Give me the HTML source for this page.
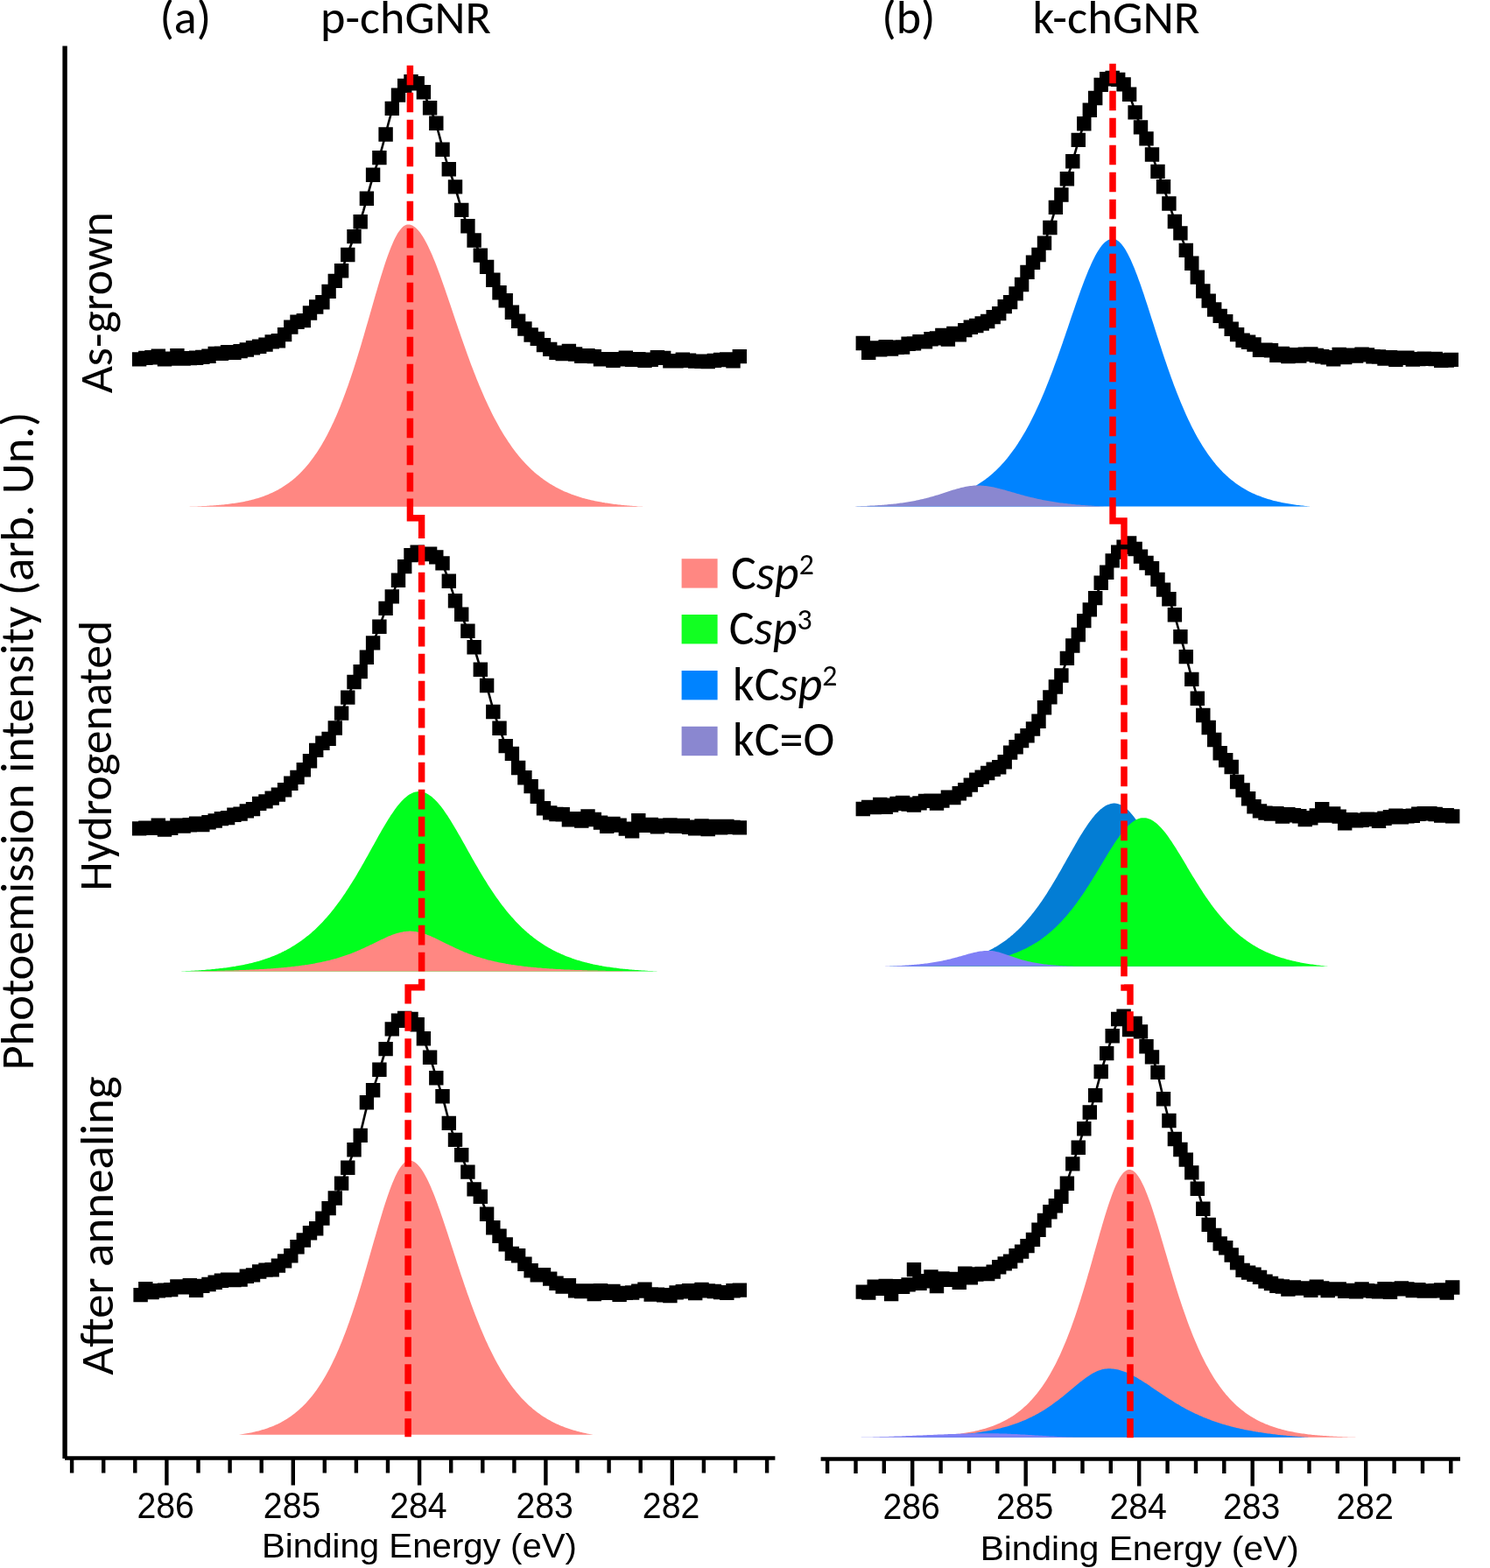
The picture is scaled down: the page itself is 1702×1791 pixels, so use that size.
<!DOCTYPE html>
<html><head><meta charset="utf-8"><title>XPS C1s spectra</title><style>html,body{margin:0;padding:0;background:#fff;overflow:hidden}svg{display:block}</style></head><body>
<svg xmlns="http://www.w3.org/2000/svg" width="1702" height="1791" viewBox="0 0 1702 1791">
<rect width="1702" height="1791" fill="#fff"/>
<path fill="#ff8782" d="M214.5 578.7L214.5 578.7L216 578.7L217.5 578.6L219 578.6L220.5 578.5L222 578.5L223.5 578.4L225 578.4L226.5 578.3L228 578.2L229.5 578.2L231 578.1L232.5 578L234 577.9L235.5 577.9L237 577.8L238.5 577.7L240 577.6L241.5 577.5L243 577.4L244.5 577.3L246 577.2L247.5 577.1L249 576.9L250.5 576.8L252 576.7L253.5 576.5L255 576.4L256.5 576.2L258 576.1L259.5 575.9L261 575.7L262.5 575.5L264 575.3L265.5 575.1L267 574.9L268.5 574.7L270 574.5L271.5 574.2L273 574L274.5 573.7L276 573.5L277.5 573.2L279 572.9L280.5 572.6L282 572.3L283.5 571.9L285 571.6L286.5 571.2L288 570.8L289.5 570.4L291 570L292.5 569.6L294 569.2L295.5 568.7L297 568.2L298.5 567.7L300 567.2L301.5 566.7L303 566.1L304.5 565.5L306 564.9L307.5 564.3L309 563.6L310.5 563L312 562.3L313.5 561.5L315 560.8L316.5 560L318 559.2L319.5 558.3L321 557.5L322.5 556.5L324 555.6L325.5 554.6L327 553.6L328.5 552.5L330 551.5L331.5 550.3L333 549.2L334.5 547.9L336 546.7L337.5 545.4L339 544L340.5 542.7L342 541.2L343.5 539.7L345 538.2L346.5 536.6L348 534.9L349.5 533.2L351 531.5L352.5 529.7L354 527.8L355.5 525.8L357 523.8L358.5 521.8L360 519.6L361.5 517.4L363 515.2L364.5 512.8L366 510.4L367.5 507.9L369 505.3L370.5 502.7L372 500L373.5 497.2L375 494.3L376.5 491.3L378 488.2L379.5 485.1L381 481.9L382.5 478.6L384 475.2L385.5 471.7L387 468.1L388.5 464.4L390 460.6L391.5 456.8L393 452.8L394.5 448.8L396 444.6L397.5 440.4L399 436.1L400.5 431.7L402 427.2L403.5 422.7L405 418L406.5 413.3L408 408.5L409.5 403.6L411 398.7L412.5 393.7L414 388.6L415.5 383.5L417 378.3L418.5 373.1L420 367.9L421.5 362.7L423 357.4L424.5 352.2L426 346.9L427.5 341.7L429 336.5L430.5 331.4L432 326.3L433.5 321.2L435 316.3L436.5 311.4L438 306.7L439.5 302.1L441 297.6L442.5 293.3L444 289.2L445.5 285.2L447 281.4L448.5 277.9L450 274.6L451.5 271.5L453 268.7L454.5 266.1L456 263.9L457.5 261.9L459 260.2L460.5 258.8L462 257.7L463.5 257L465 256.5L466.5 256.4L468 256.6L469.5 256.9L471 257.5L472.5 258.4L474 259.4L475.5 260.7L477 262.2L478.5 263.9L480 265.8L481.5 267.9L483 270.2L484.5 272.7L486 275.4L487.5 278.2L489 281.2L490.5 284.4L492 287.7L493.5 291.1L495 294.7L496.5 298.3L498 302.1L499.5 306L501 310L502.5 314.1L504 318.2L505.5 322.4L507 326.7L508.5 331L510 335.4L511.5 339.8L513 344.2L514.5 348.6L516 353.1L517.5 357.5L519 361.9L520.5 366.4L522 370.8L523.5 375.2L525 379.6L526.5 384L528 388.3L529.5 392.6L531 396.8L532.5 401L534 405.2L535.5 409.3L537 413.4L538.5 417.4L540 421.3L541.5 425.2L543 429.1L544.5 432.9L546 436.6L547.5 440.2L549 443.8L550.5 447.3L552 450.8L553.5 454.2L555 457.5L556.5 460.8L558 464L559.5 467.1L561 470.2L562.5 473.2L564 476.2L565.5 479L567 481.8L568.5 484.6L570 487.3L571.5 489.9L573 492.5L574.5 495L576 497.4L577.5 499.8L579 502.1L580.5 504.4L582 506.6L583.5 508.8L585 510.9L586.5 513L588 515L589.5 516.9L591 518.8L592.5 520.7L594 522.5L595.5 524.2L597 525.9L598.5 527.6L600 529.2L601.5 530.8L603 532.3L604.5 533.8L606 535.2L607.5 536.7L609 538L610.5 539.4L612 540.7L613.5 541.9L615 543.1L616.5 544.3L618 545.5L619.5 546.6L621 547.7L622.5 548.7L624 549.8L625.5 550.8L627 551.7L628.5 552.7L630 553.6L631.5 554.5L633 555.3L634.5 556.2L636 557L637.5 557.8L639 558.5L640.5 559.3L642 560L643.5 560.7L645 561.4L646.5 562L648 562.6L649.5 563.3L651 563.8L652.5 564.4L654 565L655.5 565.5L657 566L658.5 566.6L660 567L661.5 567.5L663 568L664.5 568.4L666 568.9L667.5 569.3L669 569.7L670.5 570.1L672 570.4L673.5 570.8L675 571.2L676.5 571.5L678 571.8L679.5 572.2L681 572.5L682.5 572.8L684 573.1L685.5 573.3L687 573.6L688.5 573.9L690 574.1L691.5 574.4L693 574.6L694.5 574.8L696 575.1L697.5 575.3L699 575.5L700.5 575.7L702 575.9L703.5 576L705 576.2L706.5 576.4L708 576.6L709.5 576.7L711 576.9L712.5 577L714 577.2L715.5 577.3L717 577.4L718.5 577.6L720 577.7L721.5 577.8L723 577.9L724.5 578L726 578.1L727.5 578.3L729 578.4L730.5 578.4L732 578.5L733.5 578.6L734.7 578.7L734.7 578.7Z"/>
<path fill="#00ff1e" d="M203.6 1109.5L203.6 1109.5L205.1 1109.4L206.6 1109.4L208.1 1109.3L209.6 1109.3L211.1 1109.2L212.6 1109.1L214.1 1109.1L215.6 1109L217.1 1108.9L218.6 1108.8L220.1 1108.7L221.6 1108.7L223.1 1108.6L224.6 1108.5L226.1 1108.4L227.6 1108.3L229.1 1108.2L230.6 1108.1L232.1 1108L233.6 1107.9L235.1 1107.7L236.6 1107.6L238.1 1107.5L239.6 1107.4L241.1 1107.2L242.6 1107.1L244.1 1106.9L245.6 1106.8L247.1 1106.6L248.6 1106.5L250.1 1106.3L251.6 1106.1L253.1 1106L254.6 1105.8L256.1 1105.6L257.6 1105.4L259.1 1105.2L260.6 1105L262.1 1104.8L263.6 1104.6L265.1 1104.3L266.6 1104.1L268.1 1103.9L269.6 1103.6L271.1 1103.3L272.6 1103.1L274.1 1102.8L275.6 1102.5L277.1 1102.2L278.6 1101.9L280.1 1101.6L281.6 1101.3L283.1 1100.9L284.6 1100.6L286.1 1100.2L287.6 1099.9L289.1 1099.5L290.6 1099.1L292.1 1098.7L293.6 1098.3L295.1 1097.9L296.6 1097.4L298.1 1097L299.6 1096.5L301.1 1096L302.6 1095.5L304.1 1095L305.6 1094.5L307.1 1094L308.6 1093.4L310.1 1092.8L311.6 1092.3L313.1 1091.7L314.6 1091L316.1 1090.4L317.6 1089.7L319.1 1089.1L320.6 1088.4L322.1 1087.6L323.6 1086.9L325.1 1086.1L326.6 1085.4L328.1 1084.6L329.6 1083.7L331.1 1082.9L332.6 1082L334.1 1081.1L335.6 1080.2L337.1 1079.3L338.6 1078.3L340.1 1077.3L341.6 1076.3L343.1 1075.3L344.6 1074.2L346.1 1073.1L347.6 1072L349.1 1070.8L350.6 1069.6L352.1 1068.4L353.6 1067.2L355.1 1065.9L356.6 1064.6L358.1 1063.2L359.6 1061.9L361.1 1060.5L362.6 1059L364.1 1057.5L365.6 1056L367.1 1054.5L368.6 1052.9L370.1 1051.3L371.6 1049.6L373.1 1047.9L374.6 1046.2L376.1 1044.5L377.6 1042.7L379.1 1040.8L380.6 1038.9L382.1 1037L383.6 1035.1L385.1 1033.1L386.6 1031.1L388.1 1029L389.6 1026.9L391.1 1024.8L392.6 1022.6L394.1 1020.4L395.6 1018.1L397.1 1015.8L398.6 1013.5L400.1 1011.1L401.6 1008.7L403.1 1006.3L404.6 1003.9L406.1 1001.4L407.6 998.9L409.1 996.3L410.6 993.7L412.1 991.2L413.6 988.5L415.1 985.9L416.6 983.2L418.1 980.6L419.6 977.9L421.1 975.2L422.6 972.5L424.1 969.8L425.6 967.1L427.1 964.4L428.6 961.7L430.1 959L431.6 956.3L433.1 953.6L434.6 951L436.1 948.3L437.6 945.8L439.1 943.2L440.6 940.7L442.1 938.2L443.6 935.8L445.1 933.4L446.6 931.1L448.1 928.9L449.6 926.7L451.1 924.6L452.6 922.5L454.1 920.6L455.6 918.7L457.1 917L458.6 915.3L460.1 913.7L461.6 912.3L463.1 910.9L464.6 909.7L466.1 908.6L467.6 907.5L469.1 906.7L470.6 905.9L472.1 905.3L473.6 904.8L475.1 904.4L476.6 904.2L478.1 904.1L479.6 904.1L481.1 904.3L482.6 904.6L484.1 905L485.6 905.5L487.1 906.2L488.6 907L490.1 907.9L491.6 909L493.1 910.1L494.6 911.4L496.1 912.8L497.6 914.2L499.1 915.8L500.6 917.5L502.1 919.3L503.6 921.1L505.1 923.1L506.6 925.1L508.1 927.2L509.6 929.4L511.1 931.6L512.6 933.9L514.1 936.3L515.6 938.7L517.1 941.2L518.6 943.7L520.1 946.2L521.6 948.8L523.1 951.4L524.6 954L526.1 956.6L527.6 959.3L529.1 961.9L530.6 964.6L532.1 967.3L533.6 970L535.1 972.7L536.6 975.3L538.1 978L539.6 980.7L541.1 983.3L542.6 985.9L544.1 988.5L545.6 991.1L547.1 993.7L548.6 996.2L550.1 998.8L551.6 1001.2L553.1 1003.7L554.6 1006.1L556.1 1008.5L557.6 1010.9L559.1 1013.2L560.6 1015.5L562.1 1017.8L563.6 1020L565.1 1022.2L566.6 1024.4L568.1 1026.5L569.6 1028.6L571.1 1030.7L572.6 1032.7L574.1 1034.7L575.6 1036.6L577.1 1038.5L578.6 1040.4L580.1 1042.2L581.6 1044L583.1 1045.7L584.6 1047.5L586.1 1049.1L587.6 1050.8L589.1 1052.4L590.6 1054L592.1 1055.5L593.6 1057L595.1 1058.5L596.6 1059.9L598.1 1061.3L599.6 1062.7L601.1 1064.1L602.6 1065.4L604.1 1066.6L605.6 1067.9L607.1 1069.1L608.6 1070.3L610.1 1071.5L611.6 1072.6L613.1 1073.7L614.6 1074.8L616.1 1075.8L617.6 1076.8L619.1 1077.8L620.6 1078.8L622.1 1079.7L623.6 1080.7L625.1 1081.6L626.6 1082.4L628.1 1083.3L629.6 1084.1L631.1 1084.9L632.6 1085.7L634.1 1086.5L635.6 1087.2L637.1 1087.9L638.6 1088.6L640.1 1089.3L641.6 1090L643.1 1090.6L644.6 1091.3L646.1 1091.9L647.6 1092.5L649.1 1093L650.6 1093.6L652.1 1094.1L653.6 1094.7L655.1 1095.2L656.6 1095.7L658.1 1096.2L659.6 1096.7L661.1 1097.1L662.6 1097.6L664.1 1098L665.6 1098.4L667.1 1098.8L668.6 1099.2L670.1 1099.6L671.6 1100L673.1 1100.3L674.6 1100.7L676.1 1101L677.6 1101.4L679.1 1101.7L680.6 1102L682.1 1102.3L683.6 1102.6L685.1 1102.9L686.6 1103.1L688.1 1103.4L689.6 1103.7L691.1 1103.9L692.6 1104.2L694.1 1104.4L695.6 1104.6L697.1 1104.8L698.6 1105L700.1 1105.3L701.6 1105.5L703.1 1105.6L704.6 1105.8L706.1 1106L707.6 1106.2L709.1 1106.4L710.6 1106.5L712.1 1106.7L713.6 1106.8L715.1 1107L716.6 1107.1L718.1 1107.3L719.6 1107.4L721.1 1107.5L722.6 1107.7L724.1 1107.8L725.6 1107.9L727.1 1108L728.6 1108.1L730.1 1108.2L731.6 1108.3L733.1 1108.4L734.6 1108.5L736.1 1108.6L737.6 1108.7L739.1 1108.8L740.6 1108.9L742.1 1109L743.6 1109L745.1 1109.1L746.6 1109.2L748.1 1109.2L749.6 1109.3L751.1 1109.4L752.6 1109.4L754 1109.5L754 1109.5Z"/>
<path fill="#ff8782" d="M205 1109.5L205 1109.5L206.5 1109.5L208 1109.5L209.5 1109.5L211 1109.4L212.5 1109.4L214 1109.4L215.5 1109.4L217 1109.4L218.5 1109.4L220 1109.3L221.5 1109.3L223 1109.3L224.5 1109.3L226 1109.3L227.5 1109.2L229 1109.2L230.5 1109.2L232 1109.2L233.5 1109.1L235 1109.1L236.5 1109.1L238 1109.1L239.5 1109L241 1109L242.5 1109L244 1108.9L245.5 1108.9L247 1108.9L248.5 1108.8L250 1108.8L251.5 1108.8L253 1108.7L254.5 1108.7L256 1108.7L257.5 1108.6L259 1108.6L260.5 1108.6L262 1108.5L263.5 1108.5L265 1108.4L266.5 1108.4L268 1108.3L269.5 1108.3L271 1108.2L272.5 1108.2L274 1108.1L275.5 1108.1L277 1108L278.5 1108L280 1107.9L281.5 1107.8L283 1107.8L284.5 1107.7L286 1107.6L287.5 1107.6L289 1107.5L290.5 1107.4L292 1107.3L293.5 1107.3L295 1107.2L296.5 1107.1L298 1107L299.5 1106.9L301 1106.9L302.5 1106.8L304 1106.7L305.5 1106.6L307 1106.5L308.5 1106.4L310 1106.3L311.5 1106.2L313 1106L314.5 1105.9L316 1105.8L317.5 1105.7L319 1105.6L320.5 1105.4L322 1105.3L323.5 1105.2L325 1105L326.5 1104.9L328 1104.7L329.5 1104.6L331 1104.4L332.5 1104.3L334 1104.1L335.5 1103.9L337 1103.7L338.5 1103.6L340 1103.4L341.5 1103.2L343 1103L344.5 1102.8L346 1102.6L347.5 1102.4L349 1102.1L350.5 1101.9L352 1101.7L353.5 1101.4L355 1101.2L356.5 1100.9L358 1100.7L359.5 1100.4L361 1100.1L362.5 1099.8L364 1099.5L365.5 1099.2L367 1098.9L368.5 1098.6L370 1098.3L371.5 1097.9L373 1097.6L374.5 1097.2L376 1096.9L377.5 1096.5L379 1096.1L380.5 1095.7L382 1095.3L383.5 1094.9L385 1094.4L386.5 1094L388 1093.5L389.5 1093.1L391 1092.6L392.5 1092.1L394 1091.6L395.5 1091.1L397 1090.5L398.5 1090L400 1089.4L401.5 1088.9L403 1088.3L404.5 1087.7L406 1087.1L407.5 1086.4L409 1085.8L410.5 1085.2L412 1084.5L413.5 1083.8L415 1083.2L416.5 1082.5L418 1081.8L419.5 1081.1L421 1080.4L422.5 1079.6L424 1078.9L425.5 1078.2L427 1077.5L428.5 1076.7L430 1076L431.5 1075.2L433 1074.5L434.5 1073.8L436 1073.1L437.5 1072.4L439 1071.7L440.5 1071L442 1070.3L443.5 1069.6L445 1069L446.5 1068.4L448 1067.8L449.5 1067.3L451 1066.7L452.5 1066.3L454 1065.8L455.5 1065.4L457 1065L458.5 1064.7L460 1064.4L461.5 1064.1L463 1063.9L464.5 1063.8L466 1063.7L467.5 1063.6L469 1063.6L470.5 1063.7L472 1063.8L473.5 1063.9L475 1064.1L476.5 1064.4L478 1064.7L479.5 1065L481 1065.4L482.5 1065.8L484 1066.3L485.5 1066.8L487 1067.3L488.5 1067.9L490 1068.5L491.5 1069.1L493 1069.7L494.5 1070.4L496 1071.1L497.5 1071.8L499 1072.5L500.5 1073.2L502 1073.9L503.5 1074.7L505 1075.4L506.5 1076.2L508 1076.9L509.5 1077.7L511 1078.4L512.5 1079.1L514 1079.9L515.5 1080.6L517 1081.3L518.5 1082L520 1082.7L521.5 1083.4L523 1084.1L524.5 1084.8L526 1085.5L527.5 1086.1L529 1086.7L530.5 1087.4L532 1088L533.5 1088.6L535 1089.2L536.5 1089.7L538 1090.3L539.5 1090.8L541 1091.4L542.5 1091.9L544 1092.4L545.5 1092.9L547 1093.3L548.5 1093.8L550 1094.3L551.5 1094.7L553 1095.1L554.5 1095.6L556 1096L557.5 1096.4L559 1096.7L560.5 1097.1L562 1097.5L563.5 1097.8L565 1098.2L566.5 1098.5L568 1098.8L569.5 1099.2L571 1099.5L572.5 1099.8L574 1100.1L575.5 1100.3L577 1100.6L578.5 1100.9L580 1101.1L581.5 1101.4L583 1101.6L584.5 1101.9L586 1102.1L587.5 1102.3L589 1102.5L590.5 1102.7L592 1103L593.5 1103.1L595 1103.3L596.5 1103.5L598 1103.7L599.5 1103.9L601 1104.1L602.5 1104.2L604 1104.4L605.5 1104.5L607 1104.7L608.5 1104.8L610 1105L611.5 1105.1L613 1105.3L614.5 1105.4L616 1105.5L617.5 1105.6L619 1105.8L620.5 1105.9L622 1106L623.5 1106.1L625 1106.2L626.5 1106.3L628 1106.4L629.5 1106.5L631 1106.6L632.5 1106.7L634 1106.8L635.5 1106.9L637 1107L638.5 1107.1L640 1107.1L641.5 1107.2L643 1107.3L644.5 1107.4L646 1107.4L647.5 1107.5L649 1107.6L650.5 1107.6L652 1107.7L653.5 1107.8L655 1107.8L656.5 1107.9L658 1107.9L659.5 1108L661 1108L662.5 1108.1L664 1108.1L665.5 1108.2L667 1108.2L668.5 1108.3L670 1108.3L671.5 1108.4L673 1108.4L674.5 1108.5L676 1108.5L677.5 1108.5L679 1108.6L680.5 1108.6L682 1108.6L683.5 1108.7L685 1108.7L686.5 1108.7L688 1108.8L689.5 1108.8L691 1108.8L692.5 1108.9L694 1108.9L695.5 1108.9L697 1108.9L698.5 1109L700 1109L701.5 1109L703 1109L704.5 1109.1L706 1109.1L707.5 1109.1L709 1109.1L710.5 1109.1L712 1109.2L713.5 1109.2L715 1109.2L716.5 1109.2L718 1109.2L719.5 1109.3L721 1109.3L722.5 1109.3L724 1109.3L725.5 1109.3L727 1109.3L728.5 1109.3L730 1109.4L731.5 1109.4L733 1109.4L734.5 1109.4L736 1109.4L737.5 1109.4L739 1109.4L740.5 1109.4L742 1109.4L743.5 1109.5L745 1109.5L746.5 1109.5L748 1109.5L749.5 1109.5L751 1109.5L752 1109.5L752 1109.5Z"/>
<path fill="#ff8782" d="M272.9 1638.7L272.9 1638.7L274.4 1638.5L275.9 1638.3L277.4 1638.1L278.9 1637.8L280.4 1637.6L281.9 1637.3L283.4 1637L284.9 1636.8L286.4 1636.5L287.9 1636.2L289.4 1635.8L290.9 1635.5L292.4 1635.1L293.9 1634.8L295.4 1634.4L296.9 1634L298.4 1633.6L299.9 1633.1L301.4 1632.7L302.9 1632.2L304.4 1631.7L305.9 1631.2L307.4 1630.6L308.9 1630.1L310.4 1629.5L311.9 1628.9L313.4 1628.2L314.9 1627.6L316.4 1626.9L317.9 1626.2L319.4 1625.4L320.9 1624.7L322.4 1623.8L323.9 1623L325.4 1622.1L326.9 1621.2L328.4 1620.3L329.9 1619.3L331.4 1618.3L332.9 1617.2L334.4 1616.1L335.9 1615L337.4 1613.8L338.9 1612.6L340.4 1611.3L341.9 1610L343.4 1608.6L344.9 1607.2L346.4 1605.8L347.9 1604.2L349.4 1602.7L350.9 1601L352.4 1599.3L353.9 1597.6L355.4 1595.8L356.9 1593.9L358.4 1592L359.9 1590L361.4 1587.9L362.9 1585.8L364.4 1583.6L365.9 1581.3L367.4 1578.9L368.9 1576.5L370.4 1574L371.9 1571.4L373.4 1568.7L374.9 1566L376.4 1563.2L377.9 1560.2L379.4 1557.2L380.9 1554.1L382.4 1551L383.9 1547.7L385.4 1544.3L386.9 1540.9L388.4 1537.3L389.9 1533.7L391.4 1530L392.9 1526.1L394.4 1522.2L395.9 1518.2L397.4 1514.1L398.9 1509.9L400.4 1505.6L401.9 1501.2L403.4 1496.8L404.9 1492.2L406.4 1487.6L407.9 1482.9L409.4 1478.1L410.9 1473.2L412.4 1468.3L413.9 1463.3L415.4 1458.2L416.9 1453.1L418.4 1448L419.9 1442.8L421.4 1437.6L422.9 1432.3L424.4 1427.1L425.9 1421.8L427.4 1416.6L428.9 1411.4L430.4 1406.2L431.9 1401L433.4 1395.9L434.9 1390.9L436.4 1385.9L437.9 1381L439.4 1376.3L440.9 1371.7L442.4 1367.2L443.9 1362.9L445.4 1358.7L446.9 1354.7L448.4 1350.9L449.9 1347.4L451.4 1344L452.9 1340.9L454.4 1338.1L455.9 1335.5L457.4 1333.2L458.9 1331.2L460.4 1329.5L461.9 1328.1L463.4 1327L464.9 1326.2L466.4 1325.7L467.9 1325.6L469.4 1325.7L470.9 1326.1L472.4 1326.7L473.9 1327.6L475.4 1328.7L476.9 1330.1L478.4 1331.7L479.9 1333.5L481.4 1335.5L482.9 1337.8L484.4 1340.2L485.9 1342.9L487.4 1345.7L488.9 1348.8L490.4 1352L491.9 1355.3L493.4 1358.9L494.9 1362.5L496.4 1366.3L497.9 1370.2L499.4 1374.3L500.9 1378.4L502.4 1382.6L503.9 1386.9L505.4 1391.3L506.9 1395.7L508.4 1400.2L509.9 1404.8L511.4 1409.3L512.9 1413.9L514.4 1418.6L515.9 1423.2L517.4 1427.8L518.9 1432.5L520.4 1437.1L521.9 1441.7L523.4 1446.3L524.9 1450.8L526.4 1455.4L527.9 1459.8L529.4 1464.3L530.9 1468.7L532.4 1473L533.9 1477.4L535.4 1481.6L536.9 1485.8L538.4 1489.9L539.9 1494L541.4 1498L542.9 1501.9L544.4 1505.8L545.9 1509.6L547.4 1513.3L548.9 1516.9L550.4 1520.5L551.9 1524L553.4 1527.5L554.9 1530.9L556.4 1534.1L557.9 1537.4L559.4 1540.5L560.9 1543.6L562.4 1546.6L563.9 1549.5L565.4 1552.4L566.9 1555.2L568.4 1557.9L569.9 1560.6L571.4 1563.2L572.9 1565.7L574.4 1568.2L575.9 1570.6L577.4 1572.9L578.9 1575.2L580.4 1577.4L581.9 1579.6L583.4 1581.7L584.9 1583.7L586.4 1585.7L587.9 1587.6L589.4 1589.5L590.9 1591.3L592.4 1593.1L593.9 1594.8L595.4 1596.4L596.9 1598.1L598.4 1599.6L599.9 1601.1L601.4 1602.6L602.9 1604.1L604.4 1605.4L605.9 1606.8L607.4 1608.1L608.9 1609.4L610.4 1610.6L611.9 1611.8L613.4 1612.9L614.9 1614.1L616.4 1615.1L617.9 1616.2L619.4 1617.2L620.9 1618.2L622.4 1619.1L623.9 1620.1L625.4 1621L626.9 1621.8L628.4 1622.6L629.9 1623.5L631.4 1624.2L632.9 1625L634.4 1625.7L635.9 1626.4L637.4 1627.1L638.9 1627.8L640.4 1628.4L641.9 1629L643.4 1629.6L644.9 1630.2L646.4 1630.7L647.9 1631.3L649.4 1631.8L650.9 1632.3L652.4 1632.8L653.9 1633.2L655.4 1633.7L656.9 1634.1L658.4 1634.5L659.9 1634.9L661.4 1635.3L662.9 1635.7L664.4 1636.1L665.9 1636.4L667.4 1636.7L668.9 1637.1L670.4 1637.4L671.9 1637.7L673.4 1638L674.9 1638.2L676.4 1638.5L677.5 1638.7L677.5 1638.7Z"/>
<path fill="#0083ff" d="M975 578.4L975 578.4L976.5 578.4L978 578.4L979.5 578.3L981 578.3L982.5 578.3L984 578.3L985.5 578.3L987 578.2L988.5 578.2L990 578.2L991.5 578.1L993 578.1L994.5 578.1L996 578L997.5 578L999 578L1000.5 577.9L1002 577.9L1003.5 577.8L1005 577.8L1006.5 577.7L1008 577.7L1009.5 577.6L1011 577.6L1012.5 577.5L1014 577.4L1015.5 577.4L1017 577.3L1018.5 577.2L1020 577.1L1021.5 577.1L1023 577L1024.5 576.9L1026 576.8L1027.5 576.7L1029 576.6L1030.5 576.5L1032 576.4L1033.5 576.3L1035 576.1L1036.5 576L1038 575.9L1039.5 575.8L1041 575.6L1042.5 575.5L1044 575.3L1045.5 575.1L1047 575L1048.5 574.8L1050 574.6L1051.5 574.4L1053 574.2L1054.5 574L1056 573.8L1057.5 573.6L1059 573.4L1060.5 573.1L1062 572.9L1063.5 572.6L1065 572.3L1066.5 572.1L1068 571.8L1069.5 571.5L1071 571.1L1072.5 570.8L1074 570.5L1075.5 570.1L1077 569.8L1078.5 569.4L1080 569L1081.5 568.6L1083 568.2L1084.5 567.7L1086 567.3L1087.5 566.8L1089 566.3L1090.5 565.8L1092 565.3L1093.5 564.7L1095 564.2L1096.5 563.6L1098 563L1099.5 562.4L1101 561.7L1102.5 561.1L1104 560.4L1105.5 559.7L1107 558.9L1108.5 558.2L1110 557.4L1111.5 556.6L1113 555.7L1114.5 554.9L1116 554L1117.5 553L1119 552.1L1120.5 551.1L1122 550.1L1123.5 549L1125 547.9L1126.5 546.8L1128 545.7L1129.5 544.5L1131 543.2L1132.5 542L1134 540.7L1135.5 539.3L1137 537.9L1138.5 536.5L1140 535L1141.5 533.5L1143 531.9L1144.5 530.3L1146 528.7L1147.5 526.9L1149 525.2L1150.5 523.4L1152 521.5L1153.5 519.6L1155 517.6L1156.5 515.6L1158 513.5L1159.5 511.4L1161 509.2L1162.5 507L1164 504.6L1165.5 502.3L1167 499.8L1168.5 497.3L1170 494.8L1171.5 492.2L1173 489.5L1174.5 486.7L1176 483.9L1177.5 481L1179 478L1180.5 475L1182 471.9L1183.5 468.8L1185 465.5L1186.5 462.3L1188 458.9L1189.5 455.5L1191 452L1192.5 448.4L1194 444.8L1195.5 441.1L1197 437.3L1198.5 433.5L1200 429.6L1201.5 425.7L1203 421.7L1204.5 417.6L1206 413.5L1207.5 409.4L1209 405.2L1210.5 400.9L1212 396.7L1213.5 392.4L1215 388L1216.5 383.7L1218 379.3L1219.5 374.9L1221 370.5L1222.5 366.1L1224 361.6L1225.5 357.3L1227 352.9L1228.5 348.5L1230 344.2L1231.5 339.9L1233 335.7L1234.5 331.6L1236 327.5L1237.5 323.5L1239 319.5L1240.5 315.7L1242 312L1243.5 308.3L1245 304.9L1246.5 301.5L1248 298.3L1249.5 295.2L1251 292.3L1252.5 289.6L1254 287.1L1255.5 284.7L1257 282.6L1258.5 280.6L1260 278.8L1261.5 277.3L1263 276L1264.5 274.9L1266 274L1267.5 273.4L1269 273L1270.5 272.8L1272 272.9L1273.5 273.2L1275 273.8L1276.5 274.7L1278 275.8L1279.5 277.2L1281 278.8L1282.5 280.7L1284 282.8L1285.5 285.1L1287 287.7L1288.5 290.4L1290 293.4L1291.5 296.6L1293 299.9L1294.5 303.4L1296 307.1L1297.5 310.9L1299 314.8L1300.5 318.9L1302 323.1L1303.5 327.3L1305 331.7L1306.5 336.1L1308 340.7L1309.5 345.2L1311 349.8L1312.5 354.5L1314 359.2L1315.5 363.9L1317 368.6L1318.5 373.3L1320 378L1321.5 382.7L1323 387.3L1324.5 392L1326 396.6L1327.5 401.2L1329 405.7L1330.5 410.2L1332 414.6L1333.5 419L1335 423.3L1336.5 427.5L1338 431.7L1339.5 435.8L1341 439.9L1342.5 443.8L1344 447.8L1345.5 451.6L1347 455.3L1348.5 459L1350 462.6L1351.5 466.1L1353 469.6L1354.5 473L1356 476.3L1357.5 479.5L1359 482.6L1360.5 485.7L1362 488.7L1363.5 491.6L1365 494.4L1366.5 497.2L1368 499.9L1369.5 502.5L1371 505.1L1372.5 507.5L1374 510L1375.5 512.3L1377 514.6L1378.5 516.8L1380 519L1381.5 521.1L1383 523.1L1384.5 525.1L1386 527L1387.5 528.8L1389 530.7L1390.5 532.4L1392 534.1L1393.5 535.7L1395 537.3L1396.5 538.9L1398 540.4L1399.5 541.8L1401 543.2L1402.5 544.6L1404 545.9L1405.5 547.2L1407 548.4L1408.5 549.6L1410 550.7L1411.5 551.9L1413 552.9L1414.5 554L1416 555L1417.5 556L1419 556.9L1420.5 557.8L1422 558.7L1423.5 559.5L1425 560.4L1426.5 561.2L1428 561.9L1429.5 562.7L1431 563.4L1432.5 564.1L1434 564.7L1435.5 565.4L1437 566L1438.5 566.6L1440 567.1L1441.5 567.7L1443 568.2L1444.5 568.7L1446 569.2L1447.5 569.7L1449 570.2L1450.5 570.6L1452 571.1L1453.5 571.5L1455 571.9L1456.5 572.2L1458 572.6L1459.5 573L1461 573.3L1462.5 573.6L1464 573.9L1465.5 574.2L1467 574.5L1468.5 574.8L1470 575.1L1471.5 575.3L1473 575.6L1474.5 575.8L1476 576.1L1477.5 576.3L1479 576.5L1480.5 576.7L1482 576.9L1483.5 577.1L1485 577.2L1486.5 577.4L1488 577.6L1489.5 577.7L1491 577.9L1492.5 578L1494 578.2L1495.5 578.3L1496.4 578.4L1496.4 578.4Z"/>
<path fill="#8a87d0" d="M974.8 578.4L974.8 578.4L976.3 578.4L977.8 578.3L979.3 578.3L980.8 578.2L982.3 578.2L983.8 578.1L985.3 578L986.8 578L988.3 577.9L989.8 577.9L991.3 577.8L992.8 577.7L994.3 577.6L995.8 577.6L997.3 577.5L998.8 577.4L1000.3 577.3L1001.8 577.2L1003.3 577.1L1004.8 577L1006.3 576.9L1007.8 576.8L1009.3 576.7L1010.8 576.5L1012.3 576.4L1013.8 576.3L1015.3 576.1L1016.8 576L1018.3 575.8L1019.8 575.7L1021.3 575.5L1022.8 575.4L1024.3 575.2L1025.8 575L1027.3 574.8L1028.8 574.6L1030.3 574.4L1031.8 574.2L1033.3 574L1034.8 573.7L1036.3 573.5L1037.8 573.3L1039.3 573L1040.8 572.7L1042.3 572.5L1043.8 572.2L1045.3 571.9L1046.8 571.6L1048.3 571.3L1049.8 570.9L1051.3 570.6L1052.8 570.3L1054.3 569.9L1055.8 569.6L1057.3 569.2L1058.8 568.8L1060.3 568.4L1061.8 568L1063.3 567.6L1064.8 567.2L1066.3 566.7L1067.8 566.3L1069.3 565.8L1070.8 565.4L1072.3 564.9L1073.8 564.5L1075.3 564L1076.8 563.5L1078.3 563L1079.8 562.5L1081.3 562L1082.8 561.6L1084.3 561.1L1085.8 560.6L1087.3 560.1L1088.8 559.6L1090.3 559.2L1091.8 558.7L1093.3 558.3L1094.8 557.9L1096.3 557.5L1097.8 557.1L1099.3 556.7L1100.8 556.4L1102.3 556L1103.8 555.7L1105.3 555.5L1106.8 555.2L1108.3 555L1109.8 554.9L1111.3 554.7L1112.8 554.6L1114.3 554.6L1115.8 554.5L1117.3 554.5L1118.8 554.6L1120.3 554.6L1121.8 554.7L1123.3 554.8L1124.8 555L1126.3 555.1L1127.8 555.3L1129.3 555.5L1130.8 555.8L1132.3 556.1L1133.8 556.3L1135.3 556.6L1136.8 557L1138.3 557.3L1139.8 557.7L1141.3 558L1142.8 558.4L1144.3 558.8L1145.8 559.2L1147.3 559.6L1148.8 560L1150.3 560.4L1151.8 560.9L1153.3 561.3L1154.8 561.7L1156.3 562.2L1157.8 562.6L1159.3 563L1160.8 563.5L1162.3 563.9L1163.8 564.3L1165.3 564.7L1166.8 565.2L1168.3 565.6L1169.8 566L1171.3 566.4L1172.8 566.8L1174.3 567.2L1175.8 567.5L1177.3 567.9L1178.8 568.3L1180.3 568.6L1181.8 569L1183.3 569.3L1184.8 569.7L1186.3 570L1187.8 570.3L1189.3 570.6L1190.8 570.9L1192.3 571.2L1193.8 571.5L1195.3 571.8L1196.8 572.1L1198.3 572.3L1199.8 572.6L1201.3 572.8L1202.8 573.1L1204.3 573.3L1205.8 573.6L1207.3 573.8L1208.8 574L1210.3 574.2L1211.8 574.4L1213.3 574.6L1214.8 574.8L1216.3 575L1217.8 575.1L1219.3 575.3L1220.8 575.5L1222.3 575.6L1223.8 575.8L1225.3 576L1226.8 576.1L1228.3 576.2L1229.8 576.4L1231.3 576.5L1232.8 576.6L1234.3 576.8L1235.8 576.9L1237.3 577L1238.8 577.1L1240.3 577.2L1241.8 577.3L1243.3 577.4L1244.8 577.5L1246.3 577.6L1247.8 577.7L1249.3 577.8L1250.8 577.9L1252.3 577.9L1253.8 578L1255.3 578.1L1256.8 578.2L1258.3 578.2L1259.8 578.3L1261.3 578.4L1262 578.4L1262 578.4Z"/>
<path fill="#037dd4" d="M1005 1103.8L1005 1103.8L1006.5 1103.8L1008 1103.8L1009.5 1103.7L1011 1103.7L1012.5 1103.7L1014 1103.7L1015.5 1103.7L1017 1103.6L1018.5 1103.6L1020 1103.6L1021.5 1103.5L1023 1103.5L1024.5 1103.5L1026 1103.4L1027.5 1103.4L1029 1103.4L1030.5 1103.3L1032 1103.3L1033.5 1103.2L1035 1103.2L1036.5 1103.1L1038 1103.1L1039.5 1103L1041 1103L1042.5 1102.9L1044 1102.8L1045.5 1102.8L1047 1102.7L1048.5 1102.6L1050 1102.5L1051.5 1102.4L1053 1102.4L1054.5 1102.3L1056 1102.2L1057.5 1102.1L1059 1102L1060.5 1101.8L1062 1101.7L1063.5 1101.6L1065 1101.5L1066.5 1101.3L1068 1101.2L1069.5 1101L1071 1100.9L1072.5 1100.7L1074 1100.6L1075.5 1100.4L1077 1100.2L1078.5 1100L1080 1099.8L1081.5 1099.6L1083 1099.4L1084.5 1099.1L1086 1098.9L1087.5 1098.6L1089 1098.4L1090.5 1098.1L1092 1097.8L1093.5 1097.5L1095 1097.2L1096.5 1096.9L1098 1096.6L1099.5 1096.2L1101 1095.9L1102.5 1095.5L1104 1095.1L1105.5 1094.7L1107 1094.3L1108.5 1093.9L1110 1093.4L1111.5 1092.9L1113 1092.5L1114.5 1092L1116 1091.4L1117.5 1090.9L1119 1090.3L1120.5 1089.7L1122 1089.1L1123.5 1088.5L1125 1087.9L1126.5 1087.2L1128 1086.5L1129.5 1085.8L1131 1085L1132.5 1084.2L1134 1083.4L1135.5 1082.6L1137 1081.8L1138.5 1080.9L1140 1080L1141.5 1079L1143 1078.1L1144.5 1077.1L1146 1076L1147.5 1075L1149 1073.9L1150.5 1072.7L1152 1071.6L1153.5 1070.4L1155 1069.1L1156.5 1067.9L1158 1066.6L1159.5 1065.2L1161 1063.8L1162.5 1062.4L1164 1061L1165.5 1059.5L1167 1057.9L1168.5 1056.3L1170 1054.7L1171.5 1053.1L1173 1051.3L1174.5 1049.6L1176 1047.8L1177.5 1046L1179 1044.1L1180.5 1042.2L1182 1040.3L1183.5 1038.3L1185 1036.2L1186.5 1034.2L1188 1032L1189.5 1029.9L1191 1027.7L1192.5 1025.5L1194 1023.2L1195.5 1020.9L1197 1018.5L1198.5 1016.1L1200 1013.7L1201.5 1011.3L1203 1008.8L1204.5 1006.3L1206 1003.8L1207.5 1001.2L1209 998.6L1210.5 996L1212 993.4L1213.5 990.8L1215 988.1L1216.5 985.5L1218 982.8L1219.5 980.1L1221 977.5L1222.5 974.8L1224 972.2L1225.5 969.5L1227 966.9L1228.5 964.3L1230 961.7L1231.5 959.1L1233 956.6L1234.5 954.1L1236 951.7L1237.5 949.3L1239 946.9L1240.5 944.7L1242 942.4L1243.5 940.3L1245 938.2L1246.5 936.2L1248 934.2L1249.5 932.4L1251 930.6L1252.5 929L1254 927.4L1255.5 926L1257 924.6L1258.5 923.4L1260 922.2L1261.5 921.2L1263 920.3L1264.5 919.5L1266 918.9L1267.5 918.4L1269 918L1270.5 917.7L1272 917.6L1273.5 917.5L1275 917.7L1276.5 918L1278 918.4L1279.5 919L1281 919.7L1282.5 920.5L1284 921.5L1285.5 922.7L1287 923.9L1288.5 925.3L1290 926.8L1291.5 928.4L1293 930.2L1294.5 932L1296 934L1297.5 936L1299 938.2L1300.5 940.4L1302 942.7L1303.5 945.1L1305 947.6L1306.5 950.1L1308 952.7L1309.5 955.3L1311 958L1312.5 960.7L1314 963.5L1315.5 966.3L1317 969.1L1318.5 971.9L1320 974.7L1321.5 977.6L1323 980.4L1324.5 983.3L1326 986.1L1327.5 989L1329 991.8L1330.5 994.6L1332 997.4L1333.5 1000.2L1335 1002.9L1336.5 1005.7L1338 1008.4L1339.5 1011L1341 1013.6L1342.5 1016.2L1344 1018.8L1345.5 1021.3L1347 1023.8L1348.5 1026.2L1350 1028.6L1351.5 1030.9L1353 1033.2L1354.5 1035.4L1356 1037.6L1357.5 1039.8L1359 1041.9L1360.5 1044L1362 1046L1363.5 1047.9L1365 1049.8L1366.5 1051.7L1368 1053.5L1369.5 1055.3L1371 1057L1372.5 1058.7L1374 1060.4L1375.5 1062L1377 1063.5L1378.5 1065L1380 1066.5L1381.5 1067.9L1383 1069.3L1384.5 1070.6L1386 1071.9L1387.5 1073.1L1389 1074.3L1390.5 1075.5L1392 1076.7L1393.5 1077.8L1395 1078.8L1396.5 1079.9L1398 1080.9L1399.5 1081.8L1401 1082.7L1402.5 1083.6L1404 1084.5L1405.5 1085.3L1407 1086.2L1408.5 1086.9L1410 1087.7L1411.5 1088.4L1413 1089.1L1414.5 1089.8L1416 1090.4L1417.5 1091.1L1419 1091.7L1420.5 1092.2L1422 1092.8L1423.5 1093.3L1425 1093.8L1426.5 1094.3L1428 1094.8L1429.5 1095.3L1431 1095.7L1432.5 1096.1L1434 1096.5L1435.5 1096.9L1437 1097.3L1438.5 1097.6L1440 1098L1441.5 1098.3L1443 1098.6L1444.5 1098.9L1446 1099.2L1447.5 1099.5L1449 1099.8L1450.5 1100L1452 1100.3L1453.5 1100.5L1455 1100.7L1456.5 1100.9L1458 1101.1L1459.5 1101.3L1461 1101.5L1462.5 1101.7L1464 1101.8L1465.5 1102L1467 1102.2L1468.5 1102.3L1470 1102.4L1471.5 1102.6L1473 1102.7L1474.5 1102.8L1476 1102.9L1477.5 1103.1L1479 1103.2L1480.5 1103.3L1482 1103.4L1483.5 1103.5L1485 1103.5L1486.5 1103.6L1488 1103.7L1489.5 1103.8L1490 1103.8L1490 1103.8Z"/>
<path fill="#00ff1e" d="M1040 1103.8L1040 1103.8L1041.5 1103.8L1043 1103.8L1044.5 1103.7L1046 1103.7L1047.5 1103.7L1049 1103.7L1050.5 1103.6L1052 1103.6L1053.5 1103.6L1055 1103.5L1056.5 1103.5L1058 1103.5L1059.5 1103.4L1061 1103.4L1062.5 1103.3L1064 1103.3L1065.5 1103.2L1067 1103.2L1068.5 1103.1L1070 1103.1L1071.5 1103L1073 1102.9L1074.5 1102.9L1076 1102.8L1077.5 1102.7L1079 1102.7L1080.5 1102.6L1082 1102.5L1083.5 1102.4L1085 1102.3L1086.5 1102.2L1088 1102.1L1089.5 1102L1091 1101.9L1092.5 1101.8L1094 1101.7L1095.5 1101.6L1097 1101.5L1098.5 1101.3L1100 1101.2L1101.5 1101.1L1103 1100.9L1104.5 1100.8L1106 1100.6L1107.5 1100.4L1109 1100.3L1110.5 1100.1L1112 1099.9L1113.5 1099.7L1115 1099.5L1116.5 1099.3L1118 1099.1L1119.5 1098.9L1121 1098.6L1122.5 1098.4L1124 1098.1L1125.5 1097.9L1127 1097.6L1128.5 1097.3L1130 1097L1131.5 1096.7L1133 1096.4L1134.5 1096.1L1136 1095.8L1137.5 1095.4L1139 1095.1L1140.5 1094.7L1142 1094.3L1143.5 1093.9L1145 1093.5L1146.5 1093.1L1148 1092.6L1149.5 1092.2L1151 1091.7L1152.5 1091.2L1154 1090.7L1155.5 1090.2L1157 1089.6L1158.5 1089.1L1160 1088.5L1161.5 1087.9L1163 1087.3L1164.5 1086.7L1166 1086L1167.5 1085.3L1169 1084.6L1170.5 1083.9L1172 1083.2L1173.5 1082.4L1175 1081.6L1176.5 1080.8L1178 1080L1179.5 1079.1L1181 1078.2L1182.5 1077.3L1184 1076.4L1185.5 1075.4L1187 1074.4L1188.5 1073.4L1190 1072.3L1191.5 1071.2L1193 1070.1L1194.5 1068.9L1196 1067.8L1197.5 1066.5L1199 1065.3L1200.5 1064L1202 1062.7L1203.5 1061.3L1205 1059.9L1206.5 1058.5L1208 1057L1209.5 1055.5L1211 1054L1212.5 1052.4L1214 1050.8L1215.5 1049.1L1217 1047.4L1218.5 1045.7L1220 1043.9L1221.5 1042.1L1223 1040.3L1224.5 1038.4L1226 1036.4L1227.5 1034.5L1229 1032.5L1230.5 1030.4L1232 1028.3L1233.5 1026.2L1235 1024.1L1236.5 1021.9L1238 1019.7L1239.5 1017.4L1241 1015.1L1242.5 1012.8L1244 1010.5L1245.5 1008.1L1247 1005.7L1248.5 1003.3L1250 1000.8L1251.5 998.4L1253 995.9L1254.5 993.4L1256 990.9L1257.5 988.4L1259 985.9L1260.5 983.4L1262 980.9L1263.5 978.5L1265 976L1266.5 973.6L1268 971.1L1269.5 968.8L1271 966.4L1272.5 964.1L1274 961.8L1275.5 959.6L1277 957.5L1278.5 955.4L1280 953.3L1281.5 951.4L1283 949.5L1284.5 947.7L1286 946L1287.5 944.4L1289 942.9L1290.5 941.5L1292 940.2L1293.5 939.1L1295 938L1296.5 937.1L1298 936.3L1299.5 935.6L1301 935L1302.5 934.6L1304 934.3L1305.5 934.2L1307 934.2L1308.5 934.3L1310 934.5L1311.5 934.9L1313 935.5L1314.5 936.1L1316 936.9L1317.5 937.8L1319 938.9L1320.5 940L1322 941.3L1323.5 942.7L1325 944.2L1326.5 945.8L1328 947.5L1329.5 949.2L1331 951.1L1332.5 953.1L1334 955.1L1335.5 957.2L1337 959.4L1338.5 961.6L1340 963.9L1341.5 966.2L1343 968.5L1344.5 970.9L1346 973.4L1347.5 975.8L1349 978.3L1350.5 980.8L1352 983.3L1353.5 985.8L1355 988.3L1356.5 990.9L1358 993.4L1359.5 995.9L1361 998.4L1362.5 1000.9L1364 1003.3L1365.5 1005.8L1367 1008.2L1368.5 1010.6L1370 1013L1371.5 1015.3L1373 1017.6L1374.5 1019.9L1376 1022.2L1377.5 1024.4L1379 1026.6L1380.5 1028.7L1382 1030.8L1383.5 1032.9L1385 1034.9L1386.5 1036.9L1388 1038.9L1389.5 1040.8L1391 1042.7L1392.5 1044.5L1394 1046.3L1395.5 1048.1L1397 1049.8L1398.5 1051.5L1400 1053.1L1401.5 1054.7L1403 1056.3L1404.5 1057.8L1406 1059.3L1407.5 1060.7L1409 1062.2L1410.5 1063.5L1412 1064.9L1413.5 1066.2L1415 1067.5L1416.5 1068.7L1418 1069.9L1419.5 1071.1L1421 1072.2L1422.5 1073.3L1424 1074.4L1425.5 1075.5L1427 1076.5L1428.5 1077.5L1430 1078.5L1431.5 1079.4L1433 1080.3L1434.5 1081.2L1436 1082L1437.5 1082.9L1439 1083.7L1440.5 1084.5L1442 1085.2L1443.5 1086L1445 1086.7L1446.5 1087.4L1448 1088L1449.5 1088.7L1451 1089.3L1452.5 1089.9L1454 1090.5L1455.5 1091.1L1457 1091.7L1458.5 1092.2L1460 1092.7L1461.5 1093.2L1463 1093.7L1464.5 1094.2L1466 1094.6L1467.5 1095.1L1469 1095.5L1470.5 1095.9L1472 1096.3L1473.5 1096.7L1475 1097.1L1476.5 1097.5L1478 1097.8L1479.5 1098.1L1481 1098.5L1482.5 1098.8L1484 1099.1L1485.5 1099.4L1487 1099.7L1488.5 1099.9L1490 1100.2L1491.5 1100.5L1493 1100.7L1494.5 1101L1496 1101.2L1497.5 1101.4L1499 1101.6L1500.5 1101.8L1502 1102L1503.5 1102.2L1505 1102.4L1506.5 1102.6L1508 1102.8L1509.5 1102.9L1511 1103.1L1512.5 1103.3L1514 1103.4L1515.5 1103.6L1517 1103.7L1518.2 1103.8L1518.2 1103.8Z"/>
<path fill="#8080f6" d="M1005.9 1103.8L1005.9 1103.8L1007.4 1103.8L1008.9 1103.7L1010.4 1103.7L1011.9 1103.6L1013.4 1103.6L1014.9 1103.5L1016.4 1103.5L1017.9 1103.4L1019.4 1103.4L1020.9 1103.3L1022.4 1103.2L1023.9 1103.2L1025.4 1103.1L1026.9 1103L1028.4 1103L1029.9 1102.9L1031.4 1102.8L1032.9 1102.7L1034.4 1102.6L1035.9 1102.5L1037.4 1102.4L1038.9 1102.3L1040.4 1102.2L1041.9 1102.1L1043.4 1102L1044.9 1101.8L1046.4 1101.7L1047.9 1101.6L1049.4 1101.4L1050.9 1101.3L1052.4 1101.1L1053.9 1100.9L1055.4 1100.8L1056.9 1100.6L1058.4 1100.4L1059.9 1100.2L1061.4 1100L1062.9 1099.8L1064.4 1099.6L1065.9 1099.3L1067.4 1099.1L1068.9 1098.8L1070.4 1098.6L1071.9 1098.3L1073.4 1098L1074.9 1097.7L1076.4 1097.4L1077.9 1097.1L1079.4 1096.8L1080.9 1096.5L1082.4 1096.1L1083.9 1095.8L1085.4 1095.4L1086.9 1095L1088.4 1094.6L1089.9 1094.2L1091.4 1093.8L1092.9 1093.4L1094.4 1093L1095.9 1092.6L1097.4 1092.2L1098.9 1091.7L1100.4 1091.3L1101.9 1090.9L1103.4 1090.5L1104.9 1090L1106.4 1089.6L1107.9 1089.2L1109.4 1088.8L1110.9 1088.4L1112.4 1088.1L1113.9 1087.7L1115.4 1087.4L1116.9 1087.1L1118.4 1086.8L1119.9 1086.6L1121.4 1086.4L1122.9 1086.2L1124.4 1086.1L1125.9 1086L1127.4 1085.9L1128.9 1085.9L1130.4 1085.9L1131.9 1086L1133.4 1086.1L1134.9 1086.3L1136.4 1086.6L1137.9 1086.9L1139.4 1087.2L1140.9 1087.6L1142.4 1088L1143.9 1088.5L1145.4 1089L1146.9 1089.4L1148.4 1090L1149.9 1090.5L1151.4 1091L1152.9 1091.5L1154.4 1092.1L1155.9 1092.6L1157.4 1093.1L1158.9 1093.6L1160.4 1094.1L1161.9 1094.6L1163.4 1095.1L1164.9 1095.5L1166.4 1096L1167.9 1096.4L1169.4 1096.8L1170.9 1097.2L1172.4 1097.6L1173.9 1098L1175.4 1098.3L1176.9 1098.6L1178.4 1099L1179.9 1099.3L1181.4 1099.5L1182.9 1099.8L1184.4 1100.1L1185.9 1100.3L1187.4 1100.6L1188.9 1100.8L1190.4 1101L1191.9 1101.2L1193.4 1101.4L1194.9 1101.6L1196.4 1101.7L1197.9 1101.9L1199.4 1102L1200.9 1102.2L1202.4 1102.3L1203.9 1102.4L1205.4 1102.6L1206.9 1102.7L1208.4 1102.8L1209.9 1102.9L1211.4 1103L1212.9 1103.1L1214.4 1103.2L1215.9 1103.2L1217.4 1103.3L1218.9 1103.4L1220.4 1103.5L1221.9 1103.5L1223.4 1103.6L1224.9 1103.6L1226.4 1103.7L1227.9 1103.7L1229.4 1103.8L1230 1103.8L1230 1103.8Z"/>
<path fill="#ff8782" d="M1000 1641.8L1000 1641.8L1001.5 1641.8L1003 1641.8L1004.5 1641.8L1006 1641.8L1007.5 1641.8L1009 1641.7L1010.5 1641.7L1012 1641.7L1013.5 1641.7L1015 1641.7L1016.5 1641.7L1018 1641.7L1019.5 1641.6L1021 1641.6L1022.5 1641.6L1024 1641.6L1025.5 1641.6L1027 1641.5L1028.5 1641.5L1030 1641.5L1031.5 1641.5L1033 1641.4L1034.5 1641.4L1036 1641.4L1037.5 1641.3L1039 1641.3L1040.5 1641.3L1042 1641.2L1043.5 1641.2L1045 1641.2L1046.5 1641.1L1048 1641.1L1049.5 1641L1051 1641L1052.5 1640.9L1054 1640.9L1055.5 1640.8L1057 1640.7L1058.5 1640.7L1060 1640.6L1061.5 1640.5L1063 1640.5L1064.5 1640.4L1066 1640.3L1067.5 1640.2L1069 1640.1L1070.5 1640.1L1072 1640L1073.5 1639.9L1075 1639.8L1076.5 1639.6L1078 1639.5L1079.5 1639.4L1081 1639.3L1082.5 1639.1L1084 1639L1085.5 1638.9L1087 1638.7L1088.5 1638.6L1090 1638.4L1091.5 1638.2L1093 1638L1094.5 1637.8L1096 1637.7L1097.5 1637.4L1099 1637.2L1100.5 1637L1102 1636.8L1103.5 1636.5L1105 1636.3L1106.5 1636L1108 1635.8L1109.5 1635.5L1111 1635.2L1112.5 1634.9L1114 1634.5L1115.5 1634.2L1117 1633.9L1118.5 1633.5L1120 1633.1L1121.5 1632.7L1123 1632.3L1124.5 1631.9L1126 1631.4L1127.5 1631L1129 1630.5L1130.5 1630L1132 1629.5L1133.5 1628.9L1135 1628.4L1136.5 1627.8L1138 1627.2L1139.5 1626.6L1141 1625.9L1142.5 1625.2L1144 1624.5L1145.5 1623.8L1147 1623L1148.5 1622.3L1150 1621.4L1151.5 1620.6L1153 1619.7L1154.5 1618.8L1156 1617.9L1157.5 1616.9L1159 1615.9L1160.5 1614.8L1162 1613.7L1163.5 1612.6L1165 1611.4L1166.5 1610.2L1168 1608.9L1169.5 1607.6L1171 1606.3L1172.5 1604.9L1174 1603.4L1175.5 1601.9L1177 1600.3L1178.5 1598.7L1180 1597.1L1181.5 1595.3L1183 1593.5L1184.5 1591.7L1186 1589.8L1187.5 1587.8L1189 1585.8L1190.5 1583.7L1192 1581.5L1193.5 1579.2L1195 1576.9L1196.5 1574.5L1198 1572L1199.5 1569.5L1201 1566.8L1202.5 1564.1L1204 1561.3L1205.5 1558.4L1207 1555.4L1208.5 1552.3L1210 1549.2L1211.5 1545.9L1213 1542.6L1214.5 1539.1L1216 1535.6L1217.5 1531.9L1219 1528.2L1220.5 1524.3L1222 1520.4L1223.5 1516.4L1225 1512.2L1226.5 1508L1228 1503.7L1229.5 1499.3L1231 1494.7L1232.5 1490.1L1234 1485.4L1235.5 1480.6L1237 1475.8L1238.5 1470.8L1240 1465.8L1241.5 1460.7L1243 1455.6L1244.5 1450.4L1246 1445.2L1247.5 1439.9L1249 1434.6L1250.5 1429.3L1252 1424L1253.5 1418.7L1255 1413.4L1256.5 1408.1L1258 1403L1259.5 1397.8L1261 1392.8L1262.5 1387.8L1264 1383L1265.5 1378.3L1267 1373.8L1268.5 1369.4L1270 1365.3L1271.5 1361.3L1273 1357.6L1274.5 1354.1L1276 1350.9L1277.5 1347.9L1279 1345.3L1280.5 1343L1282 1340.9L1283.5 1339.2L1285 1337.9L1286.5 1336.9L1288 1336.2L1289.5 1335.9L1291 1336L1292.5 1336.4L1294 1337.1L1295.5 1338.2L1297 1339.5L1298.5 1341.2L1300 1343.2L1301.5 1345.5L1303 1348.1L1304.5 1350.9L1306 1354L1307.5 1357.3L1309 1360.9L1310.5 1364.7L1312 1368.7L1313.5 1372.8L1315 1377.1L1316.5 1381.6L1318 1386.2L1319.5 1390.9L1321 1395.7L1322.5 1400.6L1324 1405.6L1325.5 1410.6L1327 1415.7L1328.5 1420.8L1330 1425.9L1331.5 1431L1333 1436.1L1334.5 1441.2L1336 1446.2L1337.5 1451.3L1339 1456.3L1340.5 1461.2L1342 1466.1L1343.5 1470.9L1345 1475.7L1346.5 1480.4L1348 1485L1349.5 1489.5L1351 1493.9L1352.5 1498.3L1354 1502.6L1355.5 1506.8L1357 1510.9L1358.5 1514.9L1360 1518.8L1361.5 1522.7L1363 1526.4L1364.5 1530L1366 1533.6L1367.5 1537.1L1369 1540.4L1370.5 1543.7L1372 1546.9L1373.5 1550L1375 1553.1L1376.5 1556L1378 1558.9L1379.5 1561.6L1381 1564.3L1382.5 1567L1384 1569.5L1385.5 1572L1387 1574.4L1388.5 1576.7L1390 1578.9L1391.5 1581.1L1393 1583.2L1394.5 1585.3L1396 1587.3L1397.5 1589.2L1399 1591.1L1400.5 1592.9L1402 1594.6L1403.5 1596.3L1405 1597.9L1406.5 1599.5L1408 1601.1L1409.5 1602.5L1411 1604L1412.5 1605.4L1414 1606.7L1415.5 1608L1417 1609.3L1418.5 1610.5L1420 1611.6L1421.5 1612.8L1423 1613.9L1424.5 1614.9L1426 1615.9L1427.5 1616.9L1429 1617.9L1430.5 1618.8L1432 1619.7L1433.5 1620.5L1435 1621.4L1436.5 1622.2L1438 1622.9L1439.5 1623.7L1441 1624.4L1442.5 1625.1L1444 1625.8L1445.5 1626.4L1447 1627L1448.5 1627.6L1450 1628.2L1451.5 1628.8L1453 1629.3L1454.5 1629.8L1456 1630.3L1457.5 1630.8L1459 1631.2L1460.5 1631.7L1462 1632.1L1463.5 1632.5L1465 1632.9L1466.5 1633.3L1468 1633.7L1469.5 1634L1471 1634.4L1472.5 1634.7L1474 1635L1475.5 1635.3L1477 1635.6L1478.5 1635.9L1480 1636.2L1481.5 1636.4L1483 1636.7L1484.5 1636.9L1486 1637.2L1487.5 1637.4L1489 1637.6L1490.5 1637.8L1492 1638L1493.5 1638.2L1495 1638.4L1496.5 1638.5L1498 1638.7L1499.5 1638.9L1501 1639L1502.5 1639.2L1504 1639.3L1505.5 1639.4L1507 1639.6L1508.5 1639.7L1510 1639.8L1511.5 1639.9L1513 1640L1514.5 1640.1L1516 1640.2L1517.5 1640.3L1519 1640.4L1520.5 1640.5L1522 1640.6L1523.5 1640.7L1525 1640.8L1526.5 1640.8L1528 1640.9L1529.5 1641L1531 1641.1L1532.5 1641.1L1534 1641.2L1535.5 1641.2L1537 1641.3L1538.5 1641.3L1540 1641.4L1541.5 1641.4L1543 1641.5L1544.5 1641.5L1546 1641.6L1547.5 1641.6L1549 1641.7L1550.5 1641.7L1552 1641.7L1553.5 1641.8L1555 1641.8L1555.6 1641.8L1555.6 1641.8Z"/>
<path fill="#0083ff" d="M1000 1641.8L1000 1641.8L1001.5 1641.8L1003 1641.8L1004.5 1641.8L1006 1641.8L1007.5 1641.8L1009 1641.8L1010.5 1641.7L1012 1641.7L1013.5 1641.7L1015 1641.7L1016.5 1641.7L1018 1641.7L1019.5 1641.7L1021 1641.6L1022.5 1641.6L1024 1641.6L1025.5 1641.6L1027 1641.6L1028.5 1641.6L1030 1641.5L1031.5 1641.5L1033 1641.5L1034.5 1641.5L1036 1641.4L1037.5 1641.4L1039 1641.4L1040.5 1641.3L1042 1641.3L1043.5 1641.3L1045 1641.2L1046.5 1641.2L1048 1641.2L1049.5 1641.1L1051 1641.1L1052.5 1641L1054 1641L1055.5 1640.9L1057 1640.9L1058.5 1640.8L1060 1640.8L1061.5 1640.7L1063 1640.7L1064.5 1640.6L1066 1640.6L1067.5 1640.5L1069 1640.4L1070.5 1640.4L1072 1640.3L1073.5 1640.2L1075 1640.1L1076.5 1640L1078 1640L1079.5 1639.9L1081 1639.8L1082.5 1639.7L1084 1639.6L1085.5 1639.5L1087 1639.4L1088.5 1639.3L1090 1639.1L1091.5 1639L1093 1638.9L1094.5 1638.8L1096 1638.6L1097.5 1638.5L1099 1638.4L1100.5 1638.2L1102 1638.1L1103.5 1637.9L1105 1637.7L1106.5 1637.6L1108 1637.4L1109.5 1637.2L1111 1637L1112.5 1636.9L1114 1636.7L1115.5 1636.4L1117 1636.2L1118.5 1636L1120 1635.8L1121.5 1635.6L1123 1635.3L1124.5 1635.1L1126 1634.8L1127.5 1634.5L1129 1634.3L1130.5 1634L1132 1633.7L1133.5 1633.4L1135 1633.1L1136.5 1632.8L1138 1632.4L1139.5 1632.1L1141 1631.7L1142.5 1631.4L1144 1631L1145.5 1630.6L1147 1630.2L1148.5 1629.8L1150 1629.4L1151.5 1628.9L1153 1628.5L1154.5 1628L1156 1627.5L1157.5 1627L1159 1626.5L1160.5 1626L1162 1625.4L1163.5 1624.9L1165 1624.3L1166.5 1623.7L1168 1623.1L1169.5 1622.5L1171 1621.9L1172.5 1621.2L1174 1620.5L1175.5 1619.8L1177 1619.1L1178.5 1618.4L1180 1617.6L1181.5 1616.9L1183 1616.1L1184.5 1615.2L1186 1614.4L1187.5 1613.6L1189 1612.7L1190.5 1611.8L1192 1610.9L1193.5 1609.9L1195 1609L1196.5 1608L1198 1607L1199.5 1605.9L1201 1604.9L1202.5 1603.8L1204 1602.8L1205.5 1601.6L1207 1600.5L1208.5 1599.4L1210 1598.2L1211.5 1597.1L1213 1595.9L1214.5 1594.7L1216 1593.5L1217.5 1592.2L1219 1591L1220.5 1589.8L1222 1588.5L1223.5 1587.3L1225 1586L1226.5 1584.8L1228 1583.5L1229.5 1582.3L1231 1581.1L1232.5 1579.8L1234 1578.6L1235.5 1577.5L1237 1576.3L1238.5 1575.2L1240 1574.1L1241.5 1573L1243 1572L1244.5 1571L1246 1570L1247.5 1569.1L1249 1568.3L1250.5 1567.5L1252 1566.8L1253.5 1566.1L1255 1565.5L1256.5 1565L1258 1564.5L1259.5 1564.1L1261 1563.8L1262.5 1563.5L1264 1563.4L1265.5 1563.3L1267 1563.2L1268.5 1563.3L1270 1563.4L1271.5 1563.5L1273 1563.7L1274.5 1564L1276 1564.3L1277.5 1564.6L1279 1565L1280.5 1565.4L1282 1565.9L1283.5 1566.4L1285 1567L1286.5 1567.6L1288 1568.2L1289.5 1568.9L1291 1569.6L1292.5 1570.3L1294 1571.1L1295.5 1571.9L1297 1572.8L1298.5 1573.6L1300 1574.5L1301.5 1575.4L1303 1576.3L1304.5 1577.2L1306 1578.2L1307.5 1579.2L1309 1580.1L1310.5 1581.1L1312 1582.1L1313.5 1583.1L1315 1584.2L1316.5 1585.2L1318 1586.2L1319.5 1587.2L1321 1588.2L1322.5 1589.2L1324 1590.3L1325.5 1591.3L1327 1592.3L1328.5 1593.3L1330 1594.3L1331.5 1595.3L1333 1596.3L1334.5 1597.2L1336 1598.2L1337.5 1599.1L1339 1600.1L1340.5 1601L1342 1601.9L1343.5 1602.9L1345 1603.7L1346.5 1604.6L1348 1605.5L1349.5 1606.4L1351 1607.2L1352.5 1608L1354 1608.9L1355.5 1609.7L1357 1610.5L1358.5 1611.2L1360 1612L1361.5 1612.7L1363 1613.5L1364.5 1614.2L1366 1614.9L1367.5 1615.6L1369 1616.3L1370.5 1617L1372 1617.6L1373.5 1618.3L1375 1618.9L1376.5 1619.5L1378 1620.1L1379.5 1620.7L1381 1621.3L1382.5 1621.8L1384 1622.4L1385.5 1622.9L1387 1623.5L1388.5 1624L1390 1624.5L1391.5 1625L1393 1625.5L1394.5 1626L1396 1626.4L1397.5 1626.9L1399 1627.3L1400.5 1627.8L1402 1628.2L1403.5 1628.6L1405 1629L1406.5 1629.4L1408 1629.8L1409.5 1630.2L1411 1630.5L1412.5 1630.9L1414 1631.2L1415.5 1631.6L1417 1631.9L1418.5 1632.3L1420 1632.6L1421.5 1632.9L1423 1633.2L1424.5 1633.5L1426 1633.8L1427.5 1634.1L1429 1634.3L1430.5 1634.6L1432 1634.9L1433.5 1635.1L1435 1635.4L1436.5 1635.6L1438 1635.9L1439.5 1636.1L1441 1636.3L1442.5 1636.6L1444 1636.8L1445.5 1637L1447 1637.2L1448.5 1637.4L1450 1637.6L1451.5 1637.8L1453 1638L1454.5 1638.2L1456 1638.3L1457.5 1638.5L1459 1638.7L1460.5 1638.9L1462 1639L1463.5 1639.2L1465 1639.3L1466.5 1639.5L1468 1639.6L1469.5 1639.8L1471 1639.9L1472.5 1640.1L1474 1640.2L1475.5 1640.3L1477 1640.4L1478.5 1640.6L1480 1640.7L1481.5 1640.8L1483 1640.9L1484.5 1641L1486 1641.1L1487.5 1641.2L1489 1641.3L1490.5 1641.5L1492 1641.5L1493.5 1641.6L1495 1641.7L1496 1641.8L1496 1641.8Z"/>
<path fill="#8080f6" d="M974 1641.8L974 1641.8L975.5 1641.8L977 1641.8L978.5 1641.7L980 1641.7L981.5 1641.7L983 1641.7L984.5 1641.6L986 1641.6L987.5 1641.6L989 1641.5L990.5 1641.5L992 1641.5L993.5 1641.4L995 1641.4L996.5 1641.4L998 1641.3L999.5 1641.3L1001 1641.3L1002.5 1641.2L1004 1641.2L1005.5 1641.1L1007 1641.1L1008.5 1641.1L1010 1641L1011.5 1641L1013 1640.9L1014.5 1640.9L1016 1640.8L1017.5 1640.8L1019 1640.7L1020.5 1640.7L1022 1640.6L1023.5 1640.6L1025 1640.5L1026.5 1640.5L1028 1640.4L1029.5 1640.4L1031 1640.3L1032.5 1640.2L1034 1640.2L1035.5 1640.1L1037 1640.1L1038.5 1640L1040 1639.9L1041.5 1639.9L1043 1639.8L1044.5 1639.8L1046 1639.7L1047.5 1639.6L1049 1639.6L1050.5 1639.5L1052 1639.4L1053.5 1639.4L1055 1639.3L1056.5 1639.2L1058 1639.2L1059.5 1639.1L1061 1639.1L1062.5 1639L1064 1638.9L1065.5 1638.9L1067 1638.8L1068.5 1638.7L1070 1638.7L1071.5 1638.6L1073 1638.5L1074.5 1638.5L1076 1638.4L1077.5 1638.4L1079 1638.3L1080.5 1638.2L1082 1638.2L1083.5 1638.1L1085 1638.1L1086.5 1638L1088 1638L1089.5 1637.9L1091 1637.9L1092.5 1637.8L1094 1637.8L1095.5 1637.7L1097 1637.7L1098.5 1637.6L1100 1637.6L1101.5 1637.6L1103 1637.5L1104.5 1637.5L1106 1637.5L1107.5 1637.4L1109 1637.4L1110.5 1637.4L1112 1637.3L1113.5 1637.3L1115 1637.3L1116.5 1637.3L1118 1637.3L1119.5 1637.3L1121 1637.2L1122.5 1637.2L1124 1637.2L1125.5 1637.2L1127 1637.2L1128.5 1637.2L1130 1637.2L1131.5 1637.2L1133 1637.2L1134.5 1637.2L1136 1637.3L1137.5 1637.3L1139 1637.3L1140.5 1637.3L1142 1637.4L1143.5 1637.4L1145 1637.5L1146.5 1637.5L1148 1637.6L1149.5 1637.6L1151 1637.7L1152.5 1637.7L1154 1637.8L1155.5 1637.9L1157 1637.9L1158.5 1638L1160 1638.1L1161.5 1638.1L1163 1638.2L1164.5 1638.3L1166 1638.4L1167.5 1638.5L1169 1638.6L1170.5 1638.6L1172 1638.7L1173.5 1638.8L1175 1638.9L1176.5 1639L1178 1639.1L1179.5 1639.2L1181 1639.3L1182.5 1639.4L1184 1639.5L1185.5 1639.6L1187 1639.7L1188.5 1639.8L1190 1639.8L1191.5 1639.9L1193 1640L1194.5 1640.1L1196 1640.2L1197.5 1640.3L1199 1640.4L1200.5 1640.5L1202 1640.5L1203.5 1640.6L1205 1640.7L1206.5 1640.8L1208 1640.9L1209.5 1640.9L1211 1641L1212.5 1641.1L1214 1641.2L1215.5 1641.2L1217 1641.3L1218.5 1641.4L1220 1641.4L1221.5 1641.5L1223 1641.5L1224.5 1641.6L1226 1641.7L1227.5 1641.7L1229 1641.8L1230 1641.8L1230 1641.8Z"/>
<path fill="#000" d="M150.9 402.2h16.4v16.4h-16.4zM158.1 400.7h16.4v16.4h-16.4zM165.3 400.1h16.4v16.4h-16.4zM172.6 398.4h16.4v16.4h-16.4zM179.8 402.1h16.4v16.4h-16.4zM187 401.4h16.4v16.4h-16.4zM194.2 397.9h16.4v16.4h-16.4zM201.4 401.4h16.4v16.4h-16.4zM208.6 400.9h16.4v16.4h-16.4zM215.9 400.5h16.4v16.4h-16.4zM223.1 399.7h16.4v16.4h-16.4zM230.3 398.6h16.4v16.4h-16.4zM237.5 395.7h16.4v16.4h-16.4zM244.7 395.5h16.4v16.4h-16.4zM251.9 394.1h16.4v16.4h-16.4zM259.2 394.7h16.4v16.4h-16.4zM266.4 392.9h16.4v16.4h-16.4zM273.6 391.3h16.4v16.4h-16.4zM280.8 389h16.4v16.4h-16.4zM288 387.6h16.4v16.4h-16.4zM295.3 385.4h16.4v16.4h-16.4zM302.5 382.2h16.4v16.4h-16.4zM309.7 381.1h16.4v16.4h-16.4zM316.9 373.9h16.4v16.4h-16.4zM324.1 365.4h16.4v16.4h-16.4zM331.3 359.5h16.4v16.4h-16.4zM338.6 357.9h16.4v16.4h-16.4zM345.8 349.3h16.4v16.4h-16.4zM353 342.3h16.4v16.4h-16.4zM360.2 337h16.4v16.4h-16.4zM367.4 324.7h16.4v16.4h-16.4zM374.6 312.7h16.4v16.4h-16.4zM381.9 301h16.4v16.4h-16.4zM389.1 282.8h16.4v16.4h-16.4zM396.3 261.9h16.4v16.4h-16.4zM403.5 245.1h16.4v16.4h-16.4zM410.7 218.5h16.4v16.4h-16.4zM417.9 191.5h16.4v16.4h-16.4zM425.2 171.9h16.4v16.4h-16.4zM432.4 145.3h16.4v16.4h-16.4zM439.6 115.7h16.4v16.4h-16.4zM446.8 100.4h16.4v16.4h-16.4zM454 89.7h16.4v16.4h-16.4zM461.3 85h16.4v16.4h-16.4zM468.5 87.1h16.4v16.4h-16.4zM475.7 97h16.4v16.4h-16.4zM482.9 115h16.4v16.4h-16.4zM490.1 132.5h16.4v16.4h-16.4zM497.3 162.6h16.4v16.4h-16.4zM504.6 185.1h16.4v16.4h-16.4zM511.8 205.2h16.4v16.4h-16.4zM519 231.7h16.4v16.4h-16.4zM526.2 250h16.4v16.4h-16.4zM533.4 266.3h16.4v16.4h-16.4zM540.6 283.4h16.4v16.4h-16.4zM547.9 296.7h16.4v16.4h-16.4zM555.1 311.5h16.4v16.4h-16.4zM562.3 326h16.4v16.4h-16.4zM569.5 335h16.4v16.4h-16.4zM576.7 348.6h16.4v16.4h-16.4zM583.9 358.5h16.4v16.4h-16.4zM591.2 367.3h16.4v16.4h-16.4zM598.4 374.3h16.4v16.4h-16.4zM605.6 378.7h16.4v16.4h-16.4zM612.8 385.9h16.4v16.4h-16.4zM620 390.7h16.4v16.4h-16.4zM627.3 394.6h16.4v16.4h-16.4zM634.5 395.9h16.4v16.4h-16.4zM641.7 392.8h16.4v16.4h-16.4zM648.9 396.3h16.4v16.4h-16.4zM656.1 398.6h16.4v16.4h-16.4zM663.3 398h16.4v16.4h-16.4zM670.6 398.9h16.4v16.4h-16.4zM677.8 402h16.4v16.4h-16.4zM685 402.1h16.4v16.4h-16.4zM692.2 403.5h16.4v16.4h-16.4zM699.4 402h16.4v16.4h-16.4zM706.6 400.5h16.4v16.4h-16.4zM713.9 402.5h16.4v16.4h-16.4zM721.1 401.9h16.4v16.4h-16.4zM728.3 403.6h16.4v16.4h-16.4zM735.5 402.6h16.4v16.4h-16.4zM742.7 399.9h16.4v16.4h-16.4zM750 400.7h16.4v16.4h-16.4zM757.2 404h16.4v16.4h-16.4zM764.4 404h16.4v16.4h-16.4zM771.6 402.4h16.4v16.4h-16.4zM778.8 403.6h16.4v16.4h-16.4zM786 404.4h16.4v16.4h-16.4zM793.3 404.5h16.4v16.4h-16.4zM800.5 404.9h16.4v16.4h-16.4zM807.7 403.7h16.4v16.4h-16.4zM814.9 402.8h16.4v16.4h-16.4zM822.1 402.3h16.4v16.4h-16.4zM829.3 404h16.4v16.4h-16.4zM836.6 398.9h16.4v16.4h-16.4zM150.9 938.2h16.4v16.4h-16.4zM158.1 937.4h16.4v16.4h-16.4zM165.3 937.6h16.4v16.4h-16.4zM172.6 934.4h16.4v16.4h-16.4zM179.8 939.4h16.4v16.4h-16.4zM187 937.6h16.4v16.4h-16.4zM194.2 934.6h16.4v16.4h-16.4zM201.4 935.3h16.4v16.4h-16.4zM208.6 934.1h16.4v16.4h-16.4zM215.9 932.4h16.4v16.4h-16.4zM223.1 933.9h16.4v16.4h-16.4zM230.3 931h16.4v16.4h-16.4zM237.5 929.3h16.4v16.4h-16.4zM244.7 926.9h16.4v16.4h-16.4zM251.9 925.9h16.4v16.4h-16.4zM259.2 922.6h16.4v16.4h-16.4zM266.4 921.4h16.4v16.4h-16.4zM273.6 918.2h16.4v16.4h-16.4zM280.8 915.9h16.4v16.4h-16.4zM288 909.7h16.4v16.4h-16.4zM295.3 907.2h16.4v16.4h-16.4zM302.5 903.4h16.4v16.4h-16.4zM309.7 899.4h16.4v16.4h-16.4zM316.9 894h16.4v16.4h-16.4zM324.1 886.5h16.4v16.4h-16.4zM331.3 879.7h16.4v16.4h-16.4zM338.6 871h16.4v16.4h-16.4zM345.8 861.1h16.4v16.4h-16.4zM353 848.7h16.4v16.4h-16.4zM360.2 840.5h16.4v16.4h-16.4zM367.4 835.7h16.4v16.4h-16.4zM374.6 823.3h16.4v16.4h-16.4zM381.9 806.4h16.4v16.4h-16.4zM389.1 788.4h16.4v16.4h-16.4zM396.3 770.8h16.4v16.4h-16.4zM403.5 758.9h16.4v16.4h-16.4zM410.7 742.6h16.4v16.4h-16.4zM417.9 726.2h16.4v16.4h-16.4zM425.2 707.5h16.4v16.4h-16.4zM432.4 686.7h16.4v16.4h-16.4zM439.6 673.2h16.4v16.4h-16.4zM446.8 654.5h16.4v16.4h-16.4zM454 638.9h16.4v16.4h-16.4zM461.3 625.9h16.4v16.4h-16.4zM468.5 622.5h16.4v16.4h-16.4zM475.7 624.8h16.4v16.4h-16.4zM482.9 624.5h16.4v16.4h-16.4zM490.1 628.2h16.4v16.4h-16.4zM497.3 635.2h16.4v16.4h-16.4zM504.6 655.5h16.4v16.4h-16.4zM511.8 678h16.4v16.4h-16.4zM519 693.6h16.4v16.4h-16.4zM526.2 712.5h16.4v16.4h-16.4zM533.4 731h16.4v16.4h-16.4zM540.6 756.6h16.4v16.4h-16.4zM547.9 774.8h16.4v16.4h-16.4zM555.1 804.8h16.4v16.4h-16.4zM562.3 823.6h16.4v16.4h-16.4zM569.5 843.9h16.4v16.4h-16.4zM576.7 852.7h16.4v16.4h-16.4zM583.9 868.8h16.4v16.4h-16.4zM591.2 880h16.4v16.4h-16.4zM598.4 889.9h16.4v16.4h-16.4zM605.6 901.5h16.4v16.4h-16.4zM612.8 915.1h16.4v16.4h-16.4zM620 920.2h16.4v16.4h-16.4zM627.3 921.8h16.4v16.4h-16.4zM634.5 922h16.4v16.4h-16.4zM641.7 928h16.4v16.4h-16.4zM648.9 927h16.4v16.4h-16.4zM656.1 929.3h16.4v16.4h-16.4zM663.3 924.3h16.4v16.4h-16.4zM670.6 927.8h16.4v16.4h-16.4zM677.8 931.4h16.4v16.4h-16.4zM685 935.5h16.4v16.4h-16.4zM692.2 932.8h16.4v16.4h-16.4zM699.4 934.4h16.4v16.4h-16.4zM706.6 938.4h16.4v16.4h-16.4zM713.9 941.1h16.4v16.4h-16.4zM721.1 928.9h16.4v16.4h-16.4zM728.3 934.7h16.4v16.4h-16.4zM735.5 933.8h16.4v16.4h-16.4zM742.7 936.1h16.4v16.4h-16.4zM750 934.8h16.4v16.4h-16.4zM757.2 934.2h16.4v16.4h-16.4zM764.4 935.5h16.4v16.4h-16.4zM771.6 934.7h16.4v16.4h-16.4zM778.8 936.6h16.4v16.4h-16.4zM786 938.1h16.4v16.4h-16.4zM793.3 935.3h16.4v16.4h-16.4zM800.5 938.8h16.4v16.4h-16.4zM807.7 935.7h16.4v16.4h-16.4zM814.9 937h16.4v16.4h-16.4zM822.1 935.7h16.4v16.4h-16.4zM829.3 936.7h16.4v16.4h-16.4zM836.6 937.2h16.4v16.4h-16.4zM152.4 1470.9h16.4v16.4h-16.4zM158.1 1463.9h16.4v16.4h-16.4zM165.3 1467.9h16.4v16.4h-16.4zM172.6 1466h16.4v16.4h-16.4zM179.8 1465.4h16.4v16.4h-16.4zM187 1464.9h16.4v16.4h-16.4zM194.2 1461.2h16.4v16.4h-16.4zM201.4 1462h16.4v16.4h-16.4zM208.6 1460.1h16.4v16.4h-16.4zM215.9 1465.7h16.4v16.4h-16.4zM223.1 1460.7h16.4v16.4h-16.4zM230.3 1458.8h16.4v16.4h-16.4zM237.5 1456.5h16.4v16.4h-16.4zM244.7 1454.5h16.4v16.4h-16.4zM251.9 1453.4h16.4v16.4h-16.4zM259.2 1453.8h16.4v16.4h-16.4zM266.4 1453.4h16.4v16.4h-16.4zM273.6 1449.5h16.4v16.4h-16.4zM280.8 1448.2h16.4v16.4h-16.4zM288 1444.3h16.4v16.4h-16.4zM295.3 1442.4h16.4v16.4h-16.4zM302.5 1442h16.4v16.4h-16.4zM309.7 1437.4h16.4v16.4h-16.4zM316.9 1432.2h16.4v16.4h-16.4zM324.1 1426.1h16.4v16.4h-16.4zM331.3 1416.1h16.4v16.4h-16.4zM338.6 1408.3h16.4v16.4h-16.4zM345.8 1400h16.4v16.4h-16.4zM353 1395.1h16.4v16.4h-16.4zM360.2 1383.4h16.4v16.4h-16.4zM367.4 1371.9h16.4v16.4h-16.4zM374.6 1360.3h16.4v16.4h-16.4zM381.9 1343.4h16.4v16.4h-16.4zM389.1 1325.6h16.4v16.4h-16.4zM396.3 1305h16.4v16.4h-16.4zM403.5 1288.7h16.4v16.4h-16.4zM410.7 1251h16.4v16.4h-16.4zM417.9 1237.1h16.4v16.4h-16.4zM425.2 1213.6h16.4v16.4h-16.4zM432.4 1189.9h16.4v16.4h-16.4zM439.6 1167.2h16.4v16.4h-16.4zM446.8 1157.5h16.4v16.4h-16.4zM454 1154.7h16.4v16.4h-16.4zM461.3 1155.8h16.4v16.4h-16.4zM468.5 1162.1h16.4v16.4h-16.4zM475.7 1178.1h16.4v16.4h-16.4zM482.9 1199.5h16.4v16.4h-16.4zM490.1 1223h16.4v16.4h-16.4zM497.3 1244h16.4v16.4h-16.4zM504.6 1274.7h16.4v16.4h-16.4zM511.8 1293.7h16.4v16.4h-16.4zM519 1311.1h16.4v16.4h-16.4zM526.2 1330.4h16.4v16.4h-16.4zM533.4 1350.2h16.4v16.4h-16.4zM540.6 1358.6h16.4v16.4h-16.4zM547.9 1378.5h16.4v16.4h-16.4zM555.1 1394.1h16.4v16.4h-16.4zM562.3 1403.5h16.4v16.4h-16.4zM569.5 1413.2h16.4v16.4h-16.4zM576.7 1423.7h16.4v16.4h-16.4zM583.9 1426.1h16.4v16.4h-16.4zM591.2 1435.5h16.4v16.4h-16.4zM598.4 1443.1h16.4v16.4h-16.4zM605.6 1448.1h16.4v16.4h-16.4zM612.8 1447.9h16.4v16.4h-16.4zM620 1452.4h16.4v16.4h-16.4zM627.3 1457.6h16.4v16.4h-16.4zM634.5 1461.4h16.4v16.4h-16.4zM641.7 1460h16.4v16.4h-16.4zM648.9 1466.2h16.4v16.4h-16.4zM656.1 1466.9h16.4v16.4h-16.4zM663.3 1466.2h16.4v16.4h-16.4zM670.6 1469.8h16.4v16.4h-16.4zM677.8 1466h16.4v16.4h-16.4zM685 1468.5h16.4v16.4h-16.4zM692.2 1466.8h16.4v16.4h-16.4zM699.4 1470.6h16.4v16.4h-16.4zM706.6 1468.7h16.4v16.4h-16.4zM713.9 1468.3h16.4v16.4h-16.4zM721.1 1466.4h16.4v16.4h-16.4zM728.3 1464.6h16.4v16.4h-16.4zM735.5 1470.3h16.4v16.4h-16.4zM742.7 1470.4h16.4v16.4h-16.4zM750 1471h16.4v16.4h-16.4zM757.2 1471.8h16.4v16.4h-16.4zM764.4 1468.2h16.4v16.4h-16.4zM771.6 1467.1h16.4v16.4h-16.4zM778.8 1466.1h16.4v16.4h-16.4zM786 1468.9h16.4v16.4h-16.4zM793.3 1464.7h16.4v16.4h-16.4zM800.5 1466.2h16.4v16.4h-16.4zM807.7 1466.8h16.4v16.4h-16.4zM814.9 1467.9h16.4v16.4h-16.4zM822.1 1468.6h16.4v16.4h-16.4zM829.3 1466.1h16.4v16.4h-16.4zM836.6 1465.4h16.4v16.4h-16.4zM977.6 383.8h16.4v16.4h-16.4zM984 394.5h16.4v16.4h-16.4zM990.5 389.3h16.4v16.4h-16.4zM997 391.1h16.4v16.4h-16.4zM1003.5 387.9h16.4v16.4h-16.4zM1009.9 390.3h16.4v16.4h-16.4zM1016.4 388.6h16.4v16.4h-16.4zM1022.9 388.3h16.4v16.4h-16.4zM1029.4 384.5h16.4v16.4h-16.4zM1035.8 384.2h16.4v16.4h-16.4zM1042.3 382h16.4v16.4h-16.4zM1048.8 382h16.4v16.4h-16.4zM1055.3 379h16.4v16.4h-16.4zM1061.8 378.2h16.4v16.4h-16.4zM1068.2 374.7h16.4v16.4h-16.4zM1074.7 379.4h16.4v16.4h-16.4zM1081.2 372.8h16.4v16.4h-16.4zM1087.6 374.1h16.4v16.4h-16.4zM1094.1 368.9h16.4v16.4h-16.4zM1100.6 365.6h16.4v16.4h-16.4zM1107.1 363.8h16.4v16.4h-16.4zM1113.5 361.3h16.4v16.4h-16.4zM1120 358.8h16.4v16.4h-16.4zM1126.5 353.9h16.4v16.4h-16.4zM1133 349.9h16.4v16.4h-16.4zM1139.5 341.9h16.4v16.4h-16.4zM1145.9 336.9h16.4v16.4h-16.4zM1152.4 327.2h16.4v16.4h-16.4zM1158.9 316.8h16.4v16.4h-16.4zM1165.3 302.7h16.4v16.4h-16.4zM1171.8 291.5h16.4v16.4h-16.4zM1178.3 282.8h16.4v16.4h-16.4zM1184.8 269.4h16.4v16.4h-16.4zM1191.2 251.8h16.4v16.4h-16.4zM1197.7 228.7h16.4v16.4h-16.4zM1204.2 214.3h16.4v16.4h-16.4zM1210.7 196.1h16.4v16.4h-16.4zM1217.1 176h16.4v16.4h-16.4zM1223.6 151.7h16.4v16.4h-16.4zM1230.1 133h16.4v16.4h-16.4zM1236.6 117.5h16.4v16.4h-16.4zM1243 103.8h16.4v16.4h-16.4zM1249.5 88.7h16.4v16.4h-16.4zM1256 82h16.4v16.4h-16.4zM1262.5 80.8h16.4v16.4h-16.4zM1269 82.7h16.4v16.4h-16.4zM1275.4 88.2h16.4v16.4h-16.4zM1281.9 99.5h16.4v16.4h-16.4zM1288.4 120.2h16.4v16.4h-16.4zM1294.8 137.2h16.4v16.4h-16.4zM1301.3 150.2h16.4v16.4h-16.4zM1307.8 168.3h16.4v16.4h-16.4zM1314.3 187.7h16.4v16.4h-16.4zM1320.8 205h16.4v16.4h-16.4zM1327.2 224.3h16.4v16.4h-16.4zM1333.7 244.8h16.4v16.4h-16.4zM1340.2 258.2h16.4v16.4h-16.4zM1346.6 277.7h16.4v16.4h-16.4zM1353.1 292.6h16.4v16.4h-16.4zM1359.6 308.4h16.4v16.4h-16.4zM1366.1 324.3h16.4v16.4h-16.4zM1372.5 335.4h16.4v16.4h-16.4zM1379 345.3h16.4v16.4h-16.4zM1385.5 352.7h16.4v16.4h-16.4zM1392 358.9h16.4v16.4h-16.4zM1398.5 367.5h16.4v16.4h-16.4zM1404.9 373.9h16.4v16.4h-16.4zM1411.4 380.6h16.4v16.4h-16.4zM1417.9 382.6h16.4v16.4h-16.4zM1424.3 385.3h16.4v16.4h-16.4zM1430.8 391.7h16.4v16.4h-16.4zM1437.3 391.4h16.4v16.4h-16.4zM1443.8 392h16.4v16.4h-16.4zM1450.2 397.5h16.4v16.4h-16.4zM1456.7 395.8h16.4v16.4h-16.4zM1463.2 398.8h16.4v16.4h-16.4zM1469.7 397h16.4v16.4h-16.4zM1476.1 398.3h16.4v16.4h-16.4zM1482.6 396.5h16.4v16.4h-16.4zM1489.1 396.3h16.4v16.4h-16.4zM1495.6 397.8h16.4v16.4h-16.4zM1502 399.1h16.4v16.4h-16.4zM1508.5 400.1h16.4v16.4h-16.4zM1515 402.1h16.4v16.4h-16.4zM1521.5 396.8h16.4v16.4h-16.4zM1528 399.8h16.4v16.4h-16.4zM1534.4 397.5h16.4v16.4h-16.4zM1540.9 398.4h16.4v16.4h-16.4zM1547.4 396.6h16.4v16.4h-16.4zM1553.8 397.2h16.4v16.4h-16.4zM1560.3 399.1h16.4v16.4h-16.4zM1566.8 399.3h16.4v16.4h-16.4zM1573.3 401.3h16.4v16.4h-16.4zM1579.8 400.1h16.4v16.4h-16.4zM1586.2 402.5h16.4v16.4h-16.4zM1592.7 400.6h16.4v16.4h-16.4zM1599.2 400.6h16.4v16.4h-16.4zM1605.6 402.3h16.4v16.4h-16.4zM1612.1 401.9h16.4v16.4h-16.4zM1618.6 401.6h16.4v16.4h-16.4zM1625.1 401.7h16.4v16.4h-16.4zM1631.5 401.8h16.4v16.4h-16.4zM1638 403.7h16.4v16.4h-16.4zM1644.5 403.3h16.4v16.4h-16.4zM1649.6 402.7h16.4v16.4h-16.4zM977.6 915.8h16.4v16.4h-16.4zM984 913.7h16.4v16.4h-16.4zM990.5 913.8h16.4v16.4h-16.4zM997 910.7h16.4v16.4h-16.4zM1003.5 913.7h16.4v16.4h-16.4zM1009.9 911.4h16.4v16.4h-16.4zM1016.4 909.7h16.4v16.4h-16.4zM1022.9 908.7h16.4v16.4h-16.4zM1029.4 910.4h16.4v16.4h-16.4zM1035.8 911.4h16.4v16.4h-16.4zM1042.3 909.2h16.4v16.4h-16.4zM1048.8 906.7h16.4v16.4h-16.4zM1055.3 906.6h16.4v16.4h-16.4zM1061.8 909.4h16.4v16.4h-16.4zM1068.2 906.4h16.4v16.4h-16.4zM1074.7 902.6h16.4v16.4h-16.4zM1081.2 902.9h16.4v16.4h-16.4zM1087.6 898.1h16.4v16.4h-16.4zM1094.1 893.9h16.4v16.4h-16.4zM1100.6 888.4h16.4v16.4h-16.4zM1107.1 882.6h16.4v16.4h-16.4zM1113.5 879.4h16.4v16.4h-16.4zM1120 874.8h16.4v16.4h-16.4zM1126.5 870.6h16.4v16.4h-16.4zM1133 868.1h16.4v16.4h-16.4zM1139.5 862.1h16.4v16.4h-16.4zM1145.9 851.4h16.4v16.4h-16.4zM1152.4 845h16.4v16.4h-16.4zM1158.9 837.8h16.4v16.4h-16.4zM1165.3 832h16.4v16.4h-16.4zM1171.8 824.3h16.4v16.4h-16.4zM1178.3 815.6h16.4v16.4h-16.4zM1184.8 800.1h16.4v16.4h-16.4zM1191.2 788.2h16.4v16.4h-16.4zM1197.7 776.3h16.4v16.4h-16.4zM1204.2 763.3h16.4v16.4h-16.4zM1210.7 743.7h16.4v16.4h-16.4zM1217.1 729.3h16.4v16.4h-16.4zM1223.6 716.8h16.4v16.4h-16.4zM1230.1 700.9h16.4v16.4h-16.4zM1236.6 688.2h16.4v16.4h-16.4zM1243 674.9h16.4v16.4h-16.4zM1249.5 657.6h16.4v16.4h-16.4zM1256 645.6h16.4v16.4h-16.4zM1262.5 632.2h16.4v16.4h-16.4zM1269 622.4h16.4v16.4h-16.4zM1275.4 616.5h16.4v16.4h-16.4zM1281.9 612.2h16.4v16.4h-16.4zM1288.4 618.8h16.4v16.4h-16.4zM1294.8 627.4h16.4v16.4h-16.4zM1301.3 634.8h16.4v16.4h-16.4zM1307.8 640.9h16.4v16.4h-16.4zM1314.3 653.7h16.4v16.4h-16.4zM1320.8 665.4h16.4v16.4h-16.4zM1327.2 676h16.4v16.4h-16.4zM1333.7 694.1h16.4v16.4h-16.4zM1340.2 719.1h16.4v16.4h-16.4zM1346.6 741.9h16.4v16.4h-16.4zM1353.1 767.7h16.4v16.4h-16.4zM1359.6 789.6h16.4v16.4h-16.4zM1366.1 808.8h16.4v16.4h-16.4zM1372.5 822.8h16.4v16.4h-16.4zM1379 836.8h16.4v16.4h-16.4zM1385.5 852h16.4v16.4h-16.4zM1392 860h16.4v16.4h-16.4zM1398.5 867.8h16.4v16.4h-16.4zM1404.9 884.8h16.4v16.4h-16.4zM1411.4 894.3h16.4v16.4h-16.4zM1417.9 904.1h16.4v16.4h-16.4zM1424.3 913.1h16.4v16.4h-16.4zM1430.8 918.2h16.4v16.4h-16.4zM1437.3 920.4h16.4v16.4h-16.4zM1443.8 921.4h16.4v16.4h-16.4zM1450.2 921h16.4v16.4h-16.4zM1456.7 924.3h16.4v16.4h-16.4zM1463.2 922.1h16.4v16.4h-16.4zM1469.7 923.1h16.4v16.4h-16.4zM1476.1 924h16.4v16.4h-16.4zM1482.6 927.9h16.4v16.4h-16.4zM1489.1 926.1h16.4v16.4h-16.4zM1495.6 923.3h16.4v16.4h-16.4zM1502 916.1h16.4v16.4h-16.4zM1508.5 923.4h16.4v16.4h-16.4zM1515 921.2h16.4v16.4h-16.4zM1521.5 924.4h16.4v16.4h-16.4zM1528 932.2h16.4v16.4h-16.4zM1534.4 927.9h16.4v16.4h-16.4zM1540.9 929.2h16.4v16.4h-16.4zM1547.4 928.6h16.4v16.4h-16.4zM1553.8 927.4h16.4v16.4h-16.4zM1560.3 927.7h16.4v16.4h-16.4zM1566.8 929.5h16.4v16.4h-16.4zM1573.3 926.5h16.4v16.4h-16.4zM1579.8 925h16.4v16.4h-16.4zM1586.2 923.5h16.4v16.4h-16.4zM1592.7 925.1h16.4v16.4h-16.4zM1599.2 924.1h16.4v16.4h-16.4zM1605.6 923.6h16.4v16.4h-16.4zM1612.1 921.5h16.4v16.4h-16.4zM1618.6 921.1h16.4v16.4h-16.4zM1625.1 921h16.4v16.4h-16.4zM1631.5 921.8h16.4v16.4h-16.4zM1638 923.3h16.4v16.4h-16.4zM1644.5 923.1h16.4v16.4h-16.4zM1651 924.2h16.4v16.4h-16.4zM977.6 1467.4h16.4v16.4h-16.4zM984 1468.3h16.4v16.4h-16.4zM990.5 1461.6h16.4v16.4h-16.4zM997 1463.6h16.4v16.4h-16.4zM1003.5 1460.7h16.4v16.4h-16.4zM1009.9 1469.9h16.4v16.4h-16.4zM1016.4 1461.1h16.4v16.4h-16.4zM1022.9 1461.6h16.4v16.4h-16.4zM1029.4 1459.2h16.4v16.4h-16.4zM1035.8 1441.9h16.4v16.4h-16.4zM1042.3 1457.6h16.4v16.4h-16.4zM1048.8 1455h16.4v16.4h-16.4zM1055.3 1450.3h16.4v16.4h-16.4zM1061.8 1460.8h16.4v16.4h-16.4zM1068.2 1452.3h16.4v16.4h-16.4zM1074.7 1453.6h16.4v16.4h-16.4zM1081.2 1452.7h16.4v16.4h-16.4zM1087.6 1456.7h16.4v16.4h-16.4zM1094.1 1446.6h16.4v16.4h-16.4zM1100.6 1451.1h16.4v16.4h-16.4zM1107.1 1447.3h16.4v16.4h-16.4zM1113.5 1446.7h16.4v16.4h-16.4zM1120 1446.9h16.4v16.4h-16.4zM1126.5 1444.4h16.4v16.4h-16.4zM1133 1439h16.4v16.4h-16.4zM1139.5 1435.2h16.4v16.4h-16.4zM1145.9 1432.6h16.4v16.4h-16.4zM1152.4 1426.1h16.4v16.4h-16.4zM1158.9 1421.4h16.4v16.4h-16.4zM1165.3 1414.9h16.4v16.4h-16.4zM1171.8 1407.7h16.4v16.4h-16.4zM1178.3 1396.6h16.4v16.4h-16.4zM1184.8 1385.8h16.4v16.4h-16.4zM1191.2 1376.1h16.4v16.4h-16.4zM1197.7 1369h16.4v16.4h-16.4zM1204.2 1358.5h16.4v16.4h-16.4zM1210.7 1343.6h16.4v16.4h-16.4zM1217.1 1321.2h16.4v16.4h-16.4zM1223.6 1302.5h16.4v16.4h-16.4zM1230.1 1281h16.4v16.4h-16.4zM1236.6 1262.3h16.4v16.4h-16.4zM1243 1242.9h16.4v16.4h-16.4zM1249.5 1215.8h16.4v16.4h-16.4zM1256 1194.9h16.4v16.4h-16.4zM1262.5 1175h16.4v16.4h-16.4zM1269 1155.8h16.4v16.4h-16.4zM1275.4 1152.6h16.4v16.4h-16.4zM1281.9 1167.8h16.4v16.4h-16.4zM1288.4 1160.8h16.4v16.4h-16.4zM1294.8 1170.2h16.4v16.4h-16.4zM1301.3 1187.1h16.4v16.4h-16.4zM1307.8 1199.2h16.4v16.4h-16.4zM1314.3 1216.7h16.4v16.4h-16.4zM1320.8 1247h16.4v16.4h-16.4zM1327.2 1271.8h16.4v16.4h-16.4zM1333.7 1292.8h16.4v16.4h-16.4zM1340.2 1304.8h16.4v16.4h-16.4zM1346.6 1316.4h16.4v16.4h-16.4zM1353.1 1331.2h16.4v16.4h-16.4zM1359.6 1349.6h16.4v16.4h-16.4zM1366.1 1372.6h16.4v16.4h-16.4zM1372.5 1390.7h16.4v16.4h-16.4zM1379 1402.7h16.4v16.4h-16.4zM1385.5 1412.3h16.4v16.4h-16.4zM1392 1417.1h16.4v16.4h-16.4zM1398.5 1425.3h16.4v16.4h-16.4zM1404.9 1434.1h16.4v16.4h-16.4zM1411.4 1442.7h16.4v16.4h-16.4zM1417.9 1445.4h16.4v16.4h-16.4zM1424.3 1447.6h16.4v16.4h-16.4zM1430.8 1450.7h16.4v16.4h-16.4zM1437.3 1455.4h16.4v16.4h-16.4zM1443.8 1457.8h16.4v16.4h-16.4zM1450.2 1460.6h16.4v16.4h-16.4zM1456.7 1461.3h16.4v16.4h-16.4zM1463.2 1464.4h16.4v16.4h-16.4zM1469.7 1462.2h16.4v16.4h-16.4zM1476.1 1463.3h16.4v16.4h-16.4zM1482.6 1463.2h16.4v16.4h-16.4zM1489.1 1465.7h16.4v16.4h-16.4zM1495.6 1461.6h16.4v16.4h-16.4zM1502 1463.2h16.4v16.4h-16.4zM1508.5 1465.8h16.4v16.4h-16.4zM1515 1464.2h16.4v16.4h-16.4zM1521.5 1464.2h16.4v16.4h-16.4zM1528 1466.7h16.4v16.4h-16.4zM1534.4 1465.7h16.4v16.4h-16.4zM1540.9 1467.1h16.4v16.4h-16.4zM1547.4 1464.3h16.4v16.4h-16.4zM1553.8 1465.9h16.4v16.4h-16.4zM1560.3 1466.6h16.4v16.4h-16.4zM1566.8 1467.2h16.4v16.4h-16.4zM1573.3 1463.9h16.4v16.4h-16.4zM1579.8 1467.7h16.4v16.4h-16.4zM1586.2 1464.2h16.4v16.4h-16.4zM1592.7 1463.3h16.4v16.4h-16.4zM1599.2 1464.2h16.4v16.4h-16.4zM1605.6 1465.8h16.4v16.4h-16.4zM1612.1 1465.1h16.4v16.4h-16.4zM1618.6 1466.3h16.4v16.4h-16.4zM1625.1 1466.3h16.4v16.4h-16.4zM1631.5 1466.1h16.4v16.4h-16.4zM1638 1465.2h16.4v16.4h-16.4zM1644.5 1468.3h16.4v16.4h-16.4zM1651 1462.3h16.4v16.4h-16.4z"/>
<path fill="none" stroke="#000" stroke-width="2.6" d="M155.3 408 L157.3 407.9 L159.3 407.9 L161.3 407.8 L163.3 407.8 L165.3 407.8 L167.3 407.7 L169.3 407.7 L171.3 407.8 L173.3 407.9 L175.3 408 L177.3 408.1 L179.3 408.3 L181.3 408.5 L183.3 408.6 L185.3 408.8 L187.3 408.9 L189.3 408.9 L191.3 409 L193.3 409 L195.3 409 L197.3 408.9 L199.3 408.9 L201.3 408.9 L203.3 408.8 L205.3 408.8 L207.3 408.8 L209.3 408.7 L211.3 408.7 L213.3 408.6 L215.3 408.6 L217.3 408.5 L219.3 408.5 L221.3 408.4 L223.3 408.3 L225.3 408.2 L227.3 408.1 L229.3 407.9 L231.3 407.7 L233.3 407.3 L235.3 406.9 L237.3 406.5 L239.3 406 L241.3 405.7 L243.3 405.3 L245.3 405 L247.3 404.7 L249.3 404.4 L251.3 404.1 L253.3 403.9 L255.3 403.6 L257.3 403.4 L259.3 403.1 L261.3 402.8 L263.3 402.6 L265.3 402.3 L267.3 402 L269.3 401.8 L271.3 401.5 L273.3 401.2 L275.3 400.9 L277.3 400.6 L279.3 400.3 L281.3 399.9 L283.3 399.5 L285.3 399 L287.3 398.6 L289.3 398.1 L291.3 397.5 L293.3 397 L295.3 396.3 L297.3 395.7 L299.3 395 L301.3 394.3 L303.3 393.6 L305.3 392.8 L307.3 392 L309.3 391.3 L311.3 390.5 L313.3 389.7 L315.3 388.8 L317.3 387.7 L319.3 386.4 L321.3 384.9 L323.3 383.2 L325.3 381.4 L327.3 379.7 L329.3 378.1 L331.3 376.4 L333.3 374.8 L335.3 373.1 L337.3 371.6 L339.3 370.2 L341.3 368.9 L343.3 367.8 L345.3 366.5 L347.3 365 L349.3 363.1 L351.3 361 L353.3 358.7 L355.3 356.5 L357.3 354.4 L359.3 352.4 L361.3 350.6 L363.3 348.9 L365.3 347.1 L367.3 345.1 L369.3 342.6 L371.3 339.5 L373.3 336.2 L375.3 332.8 L377.3 329.6 L379.3 326.6 L381.3 323.6 L383.3 320.6 L385.3 317.4 L387.3 313.9 L389.3 310 L391.3 305.7 L393.3 300.8 L395.3 295.4 L397.3 289.9 L399.3 284.2 L401.3 278.7 L403.3 273.3 L405.3 268.2 L407.3 263.2 L409.3 258.1 L411.3 252.8 L413.3 246.8 L415.3 240.3 L417.3 233.2 L419.3 225.8 L421.3 218.4 L423.3 211.2 L425.3 204.3 L427.3 197.8 L429.3 191.6 L431.3 185.5 L433.3 179.3 L435.3 172.6 L437.3 165.5 L439.3 157.9 L441.3 150.1 L443.3 142.3 L445.3 134.8 L447.3 128 L449.3 122.1 L451.3 117.1 L453.3 112.7 L455.3 108.9 L457.3 105.4 L459.3 102.4 L461.3 99.8 L463.3 97.8 L465.3 96.4 L467.3 95.5 L469.3 95 L471.3 94.9 L473.3 95.1 L475.3 95.6 L477.3 96.5 L479.3 98.2 L481.3 100.9 L483.3 104.5 L485.3 108.9 L487.3 113.7 L489.3 118.6 L491.3 123.6 L493.3 128.6 L495.3 133.8 L497.3 139.4 L499.3 145.8 L501.3 152.9 L503.3 160.4 L505.3 168.1 L507.3 175.3 L509.3 182 L511.3 188.2 L513.3 194.2 L515.3 200 L517.3 205.9 L519.3 212.1 L521.3 218.7 L523.3 225.6 L525.3 232.5 L527.3 239.1 L529.3 245 L531.3 250.3 L533.3 255.2 L535.3 259.9 L537.3 264.6 L539.3 269.3 L541.3 274 L543.3 278.6 L545.3 283.1 L547.3 287.5 L549.3 291.8 L551.3 296 L553.3 300 L555.3 304 L557.3 307.8 L559.3 311.7 L561.3 315.6 L563.3 319.6 L565.3 323.6 L567.3 327.6 L569.3 331.3 L571.3 334.7 L573.3 337.9 L575.3 340.8 L577.3 343.8 L579.3 347 L581.3 350.4 L583.3 353.8 L585.3 357 L587.3 360.1 L589.3 362.9 L591.3 365.5 L593.3 368 L595.3 370.5 L597.3 372.9 L599.3 375.2 L601.3 377.5 L603.3 379.7 L605.3 381.6 L607.3 383.4 L609.3 384.9 L611.3 386.4 L613.3 387.7 L615.3 389.2 L617.3 390.8 L619.3 392.4 L621.3 394.1 L623.3 395.7 L625.3 397.2 L627.3 398.6 L629.3 399.8 L631.3 400.8 L633.3 401.6 L635.3 402.1 L637.3 402.5 L639.3 402.7 L641.3 402.9 L643.3 403 L645.3 403.1 L647.3 403.2 L649.3 403.4 L651.3 403.6 L653.3 403.7 L655.3 403.9 L657.3 404.2 L659.3 404.4 L661.3 404.7 L663.3 405 L665.3 405.3 L667.3 405.7 L669.3 406.1 L671.3 406.6 L673.3 407 L675.3 407.4 L677.3 407.8 L679.3 408.2 L681.3 408.5 L683.3 408.8 L685.3 409.1 L687.3 409.3 L689.3 409.5 L691.3 409.7 L693.3 409.9 L695.3 410.1 L697.3 410.2 L699.3 410.3 L701.3 410.4 L703.3 410.5 L705.3 410.6 L707.3 410.7 L709.3 410.7 L711.3 410.8 L713.3 410.8 L715.3 410.8 L717.3 410.9 L719.3 410.9 L721.3 410.9 L723.3 410.9 L725.3 410.9 L727.3 410.8 L729.3 410.8 L731.3 410.8 L733.3 410.7 L735.3 410.7 L737.3 410.6 L739.3 410.6 L741.3 410.6 L743.3 410.6 L745.3 410.5 L747.3 410.5 L749.3 410.5 L751.3 410.5 L753.3 410.6 L755.3 410.6 L757.3 410.6 L759.3 410.7 L761.3 410.8 L763.3 410.8 L765.3 410.9 L767.3 411 L769.3 411.1 L771.3 411.2 L773.3 411.3 L775.3 411.3 L777.3 411.4 L779.3 411.5 L781.3 411.6 L783.3 411.7 L785.3 411.8 L787.3 411.8 L789.3 411.9 L791.3 411.9 L793.3 412 L795.3 412 L797.3 412 L799.3 412 L801.3 412 L803.3 411.9 L805.3 411.9 L807.3 411.8 L809.3 411.8 L811.3 411.7 L813.3 411.6 L815.3 411.5 L817.3 411.4 L819.3 411.3 L821.3 411.3 L823.3 411.2 L825.3 411.1 L827.3 411 L829.3 410.9 L831.3 410.8 L833.3 410.7 L835.3 410.7 L837.3 410.6 L839.3 410.6 L841.3 410.5 L843.3 410.5 L845.3 410.5 L847.3 410.5"/>
<path fill="none" stroke="#000" stroke-width="2.6" d="M156.9 946.1 L158.9 946.2 L160.9 946.2 L162.9 946.3 L164.9 946.3 L166.9 946.4 L168.9 946.4 L170.9 946.4 L172.9 946.4 L174.9 946.3 L176.9 946.3 L178.9 946.1 L180.9 946 L182.9 945.8 L184.9 945.5 L186.9 945.3 L188.9 945 L190.9 944.8 L192.9 944.5 L194.9 944.3 L196.9 944 L198.9 943.8 L200.9 943.5 L202.9 943.2 L204.9 943 L206.9 942.8 L208.9 942.5 L210.9 942.4 L212.9 942.2 L214.9 942 L216.9 941.9 L218.9 941.8 L220.9 941.6 L222.9 941.5 L224.9 941.3 L226.9 941.2 L228.9 941 L230.9 940.7 L232.9 940.5 L234.9 940.2 L236.9 939.8 L238.9 939.4 L240.9 939 L242.9 938.6 L244.9 938.1 L246.9 937.6 L248.9 937.1 L250.9 936.6 L252.9 936 L254.9 935.4 L256.9 934.7 L258.9 934 L260.9 933.3 L262.9 932.6 L264.9 931.8 L266.9 931.2 L268.9 930.5 L270.9 929.9 L272.9 929.4 L274.9 928.9 L276.9 928.4 L278.9 927.9 L280.9 927.3 L282.9 926.6 L284.9 925.8 L286.9 924.9 L288.9 923.8 L290.9 922.5 L292.9 921.1 L294.9 919.7 L296.9 918.4 L298.9 917.1 L300.9 915.9 L302.9 914.9 L304.9 913.9 L306.9 913 L308.9 912.1 L310.9 911.1 L312.9 910.1 L314.9 909 L316.9 907.8 L318.9 906.5 L320.9 905 L322.9 903.5 L324.9 901.9 L326.9 900.2 L328.9 898.5 L330.9 896.6 L332.9 894.7 L334.9 892.6 L336.9 890.4 L338.9 888 L340.9 885.5 L342.9 883 L344.9 880.5 L346.9 878.1 L348.9 875.8 L350.9 873.5 L352.9 871 L354.9 868.3 L356.9 865.2 L358.9 862.1 L360.9 859 L362.9 856.2 L364.9 853.7 L366.9 851.4 L368.9 849.4 L370.9 847.5 L372.9 845.6 L374.9 843.5 L376.9 841 L378.9 838.1 L380.9 834.6 L382.9 830.7 L384.9 826.4 L386.9 821.7 L388.9 816.9 L390.9 811.9 L392.9 807 L394.9 802 L396.9 797.1 L398.9 792.2 L400.9 787.5 L402.9 783 L404.9 778.9 L406.9 775 L408.9 771.4 L410.9 767.9 L412.9 764.1 L414.9 760 L416.9 755.6 L418.9 751 L420.9 746.3 L422.9 741.6 L424.9 736.8 L426.9 732.1 L428.9 727.2 L430.9 722.2 L432.9 717.1 L434.9 711.6 L436.9 706.1 L438.9 700.7 L440.9 695.6 L442.9 691 L444.9 686.7 L446.9 682.3 L448.9 677.7 L450.9 672.8 L452.9 667.8 L454.9 662.9 L456.9 658.2 L458.9 654 L460.9 650 L462.9 646.2 L464.9 642.7 L466.9 639.4 L468.9 636.8 L470.9 634.8 L472.9 633.3 L474.9 632.4 L476.9 631.9 L478.9 631.7 L480.9 631.6 L482.9 631.7 L484.9 631.9 L486.9 632.2 L488.9 632.6 L490.9 633 L492.9 633.5 L494.9 634.1 L496.9 634.9 L498.9 636.2 L500.9 638.1 L502.9 640.7 L504.9 644.1 L506.9 648.3 L508.9 653 L510.9 658.3 L512.9 663.9 L514.9 669.8 L516.9 675.8 L518.9 681.7 L520.9 687.2 L522.9 692.4 L524.9 697.3 L526.9 702.1 L528.9 707 L530.9 711.8 L532.9 716.7 L534.9 721.7 L536.9 726.7 L538.9 732 L540.9 737.7 L542.9 743.9 L544.9 750.5 L546.9 757.1 L548.9 763.4 L550.9 769.2 L552.9 774.8 L554.9 780.6 L556.9 787 L558.9 794.1 L560.9 801.5 L562.9 808.7 L564.9 815.5 L566.9 821.6 L568.9 827.5 L570.9 833.1 L572.9 838.7 L574.9 844 L576.9 848.8 L578.9 852.9 L580.9 856.3 L582.9 859.3 L584.9 862.4 L586.9 865.8 L588.9 869.6 L590.9 873.5 L592.9 877.3 L594.9 881 L596.9 884.3 L598.9 887.4 L600.9 890.3 L602.9 893.2 L604.9 896 L606.9 898.9 L608.9 901.9 L610.9 905.1 L612.9 908.5 L614.9 912 L616.9 915.5 L618.9 918.8 L620.9 921.8 L622.9 924.3 L624.9 926.4 L626.9 928 L628.9 929.3 L630.9 930.3 L632.9 931.1 L634.9 931.7 L636.9 932.2 L638.9 932.7 L640.9 933.1 L642.9 933.5 L644.9 933.8 L646.9 934.1 L648.9 934.3 L650.9 934.6 L652.9 934.7 L654.9 934.9 L656.9 935 L658.9 935.1 L660.9 935.2 L662.9 935.2 L664.9 935.3 L666.9 935.4 L668.9 935.5 L670.9 935.6 L672.9 935.8 L674.9 936.1 L676.9 936.5 L678.9 937 L680.9 937.5 L682.9 938.1 L684.9 938.6 L686.9 939.2 L688.9 939.7 L690.9 940.2 L692.9 940.7 L694.9 941.2 L696.9 941.7 L698.9 942.2 L700.9 942.7 L702.9 943.1 L704.9 943.4 L706.9 943.7 L708.9 943.8 L710.9 943.9 L712.9 943.9 L714.9 943.9 L716.9 943.9 L718.9 943.9 L720.9 943.8 L722.9 943.7 L724.9 943.7 L726.9 943.6 L728.9 943.5 L730.9 943.5 L732.9 943.4 L734.9 943.3 L736.9 943.3 L738.9 943.2 L740.9 943.1 L742.9 943.1 L744.9 943.1 L746.9 943 L748.9 943 L750.9 943 L752.9 943 L754.9 943.1 L756.9 943.1 L758.9 943.2 L760.9 943.3 L762.9 943.4 L764.9 943.5 L766.9 943.6 L768.9 943.7 L770.9 943.8 L772.9 943.9 L774.9 944 L776.9 944.1 L778.9 944.2 L780.9 944.3 L782.9 944.4 L784.9 944.4 L786.9 944.5 L788.9 944.5 L790.9 944.6 L792.9 944.6 L794.9 944.6 L796.9 944.7 L798.9 944.7 L800.9 944.7 L802.9 944.8 L804.9 944.8 L806.9 944.8 L808.9 944.8 L810.9 944.8 L812.9 944.9 L814.9 944.9 L816.9 944.9 L818.9 945 L820.9 945 L822.9 945 L824.9 945 L826.9 945.1 L828.9 945.1 L830.9 945.1 L832.9 945.2 L834.9 945.2 L836.9 945.2 L838.9 945.2 L840.9 945.3 L842.9 945.3 L844.9 945.3 L846.9 945.4 L848.9 945.4"/>
<path fill="none" stroke="#000" stroke-width="2.6" d="M158.4 1476.1 L160.4 1476 L162.4 1476 L164.4 1475.9 L166.4 1475.8 L168.4 1475.7 L170.4 1475.6 L172.4 1475.5 L174.4 1475.4 L176.4 1475.3 L178.4 1475.2 L180.4 1475 L182.4 1474.8 L184.4 1474.6 L186.4 1474.4 L188.4 1474.2 L190.4 1474 L192.4 1473.7 L194.4 1473.4 L196.4 1473.1 L198.4 1472.8 L200.4 1472.4 L202.4 1472 L204.4 1471.6 L206.4 1471.2 L208.4 1470.8 L210.4 1470.5 L212.4 1470.1 L214.4 1469.9 L216.4 1469.6 L218.4 1469.4 L220.4 1469.3 L222.4 1469.1 L224.4 1469 L226.4 1468.9 L228.4 1468.8 L230.4 1468.6 L232.4 1468.4 L234.4 1468.1 L236.4 1467.8 L238.4 1467.3 L240.4 1466.8 L242.4 1466.2 L244.4 1465.5 L246.4 1465 L248.4 1464.5 L250.4 1464.1 L252.4 1463.8 L254.4 1463.6 L256.4 1463.4 L258.4 1463.2 L260.4 1463.1 L262.4 1462.9 L264.4 1462.8 L266.4 1462.6 L268.4 1462.3 L270.4 1461.9 L272.4 1461.5 L274.4 1460.9 L276.4 1460.2 L278.4 1459.4 L280.4 1458.6 L282.4 1457.8 L284.4 1457 L286.4 1456.2 L288.4 1455.5 L290.4 1454.8 L292.4 1454.1 L294.4 1453.4 L296.4 1452.7 L298.4 1452.1 L300.4 1451.5 L302.4 1450.9 L304.4 1450.3 L306.4 1449.7 L308.4 1449.1 L310.4 1448.4 L312.4 1447.6 L314.4 1446.7 L316.4 1445.7 L318.4 1444.7 L320.4 1443.6 L322.4 1442.4 L324.4 1441.1 L326.4 1439.7 L328.4 1438 L330.4 1436 L332.4 1433.8 L334.4 1431.2 L336.4 1428.5 L338.4 1425.8 L340.4 1423.1 L342.4 1420.6 L344.4 1418.2 L346.4 1415.9 L348.4 1413.8 L350.4 1411.8 L352.4 1410 L354.4 1408.4 L356.4 1406.8 L358.4 1405.2 L360.4 1403.4 L362.4 1401.1 L364.4 1398.2 L366.4 1395 L368.4 1391.6 L370.4 1388.2 L372.4 1385.1 L374.4 1382.1 L376.4 1379.2 L378.4 1376 L380.4 1372.6 L382.4 1368.9 L384.4 1364.7 L386.4 1360.2 L388.4 1355.4 L390.4 1350.4 L392.4 1345.4 L394.4 1340.4 L396.4 1335.3 L398.4 1330.1 L400.4 1324.8 L402.4 1319.4 L404.4 1314 L406.4 1308.9 L408.4 1303.6 L410.4 1297.9 L412.4 1291.3 L414.4 1283.4 L416.4 1274.9 L418.4 1266.6 L420.4 1259.4 L422.4 1253.3 L424.4 1248.1 L426.4 1243 L428.4 1237.6 L430.4 1231.7 L432.4 1225.5 L434.4 1219 L436.4 1212.5 L438.4 1206 L440.4 1199.4 L442.4 1192.8 L444.4 1186.4 L446.4 1180.6 L448.4 1175.7 L450.4 1171.7 L452.4 1168.7 L454.4 1166.6 L456.4 1165.2 L458.4 1164.3 L460.4 1163.9 L462.4 1163.9 L464.4 1164.1 L466.4 1164.5 L468.4 1165.1 L470.4 1166 L472.4 1167.3 L474.4 1168.9 L476.4 1171.2 L478.4 1174.3 L480.4 1178.1 L482.4 1182.8 L484.4 1187.9 L486.4 1193.5 L488.4 1199.2 L490.4 1205.2 L492.4 1211.4 L494.4 1217.7 L496.4 1224.2 L498.4 1230.6 L500.4 1236.8 L502.4 1243.1 L504.4 1249.5 L506.4 1256.3 L508.4 1263.7 L510.4 1271.5 L512.4 1279.1 L514.4 1286.2 L516.4 1292.4 L518.4 1297.9 L520.4 1303 L522.4 1308 L524.4 1313 L526.4 1318 L528.4 1323 L530.4 1328.1 L532.4 1333.2 L534.4 1338.5 L536.4 1343.8 L538.4 1348.9 L540.4 1353.7 L542.4 1357.9 L544.4 1361.4 L546.4 1364.5 L548.4 1367.8 L550.4 1371.6 L552.4 1376.2 L554.4 1381.5 L556.4 1386.8 L558.4 1391.8 L560.4 1396.3 L562.4 1400.2 L564.4 1403.7 L566.4 1407 L568.4 1409.9 L570.4 1412.7 L572.4 1415.2 L574.4 1417.5 L576.4 1419.9 L578.4 1422.3 L580.4 1424.9 L582.4 1427.5 L584.4 1430 L586.4 1432 L588.4 1433.7 L590.4 1435.2 L592.4 1436.7 L594.4 1438.4 L596.4 1440.3 L598.4 1442.5 L600.4 1444.8 L602.4 1447.1 L604.4 1449.2 L606.4 1451.1 L608.4 1452.6 L610.4 1453.8 L612.4 1454.8 L614.4 1455.6 L616.4 1456.4 L618.4 1457.2 L620.4 1458.1 L622.4 1459 L624.4 1459.9 L626.4 1460.8 L628.4 1461.7 L630.4 1462.7 L632.4 1463.6 L634.4 1464.6 L636.4 1465.5 L638.4 1466.4 L640.4 1467.2 L642.4 1468 L644.4 1468.8 L646.4 1469.5 L648.4 1470.2 L650.4 1470.9 L652.4 1471.6 L654.4 1472.2 L656.4 1472.8 L658.4 1473.3 L660.4 1473.8 L662.4 1474.2 L664.4 1474.5 L666.4 1474.8 L668.4 1475 L670.4 1475.2 L672.4 1475.3 L674.4 1475.4 L676.4 1475.6 L678.4 1475.7 L680.4 1475.7 L682.4 1475.8 L684.4 1475.9 L686.4 1476 L688.4 1476 L690.4 1476.1 L692.4 1476.2 L694.4 1476.3 L696.4 1476.3 L698.4 1476.4 L700.4 1476.5 L702.4 1476.6 L704.4 1476.6 L706.4 1476.7 L708.4 1476.8 L710.4 1476.8 L712.4 1476.9 L714.4 1476.9 L716.4 1477 L718.4 1477 L720.4 1477 L722.4 1477.1 L724.4 1477.1 L726.4 1477.1 L728.4 1477.2 L730.4 1477.2 L732.4 1477.2 L734.4 1477.2 L736.4 1477.3 L738.4 1477.3 L740.4 1477.3 L742.4 1477.3 L744.4 1477.4 L746.4 1477.4 L748.4 1477.4 L750.4 1477.4 L752.4 1477.4 L754.4 1477.4 L756.4 1477.5 L758.4 1477.5 L760.4 1477.5 L762.4 1477.5 L764.4 1477.5 L766.4 1477.5 L768.4 1477.4 L770.4 1477.4 L772.4 1477.2 L774.4 1477.1 L776.4 1476.9 L778.4 1476.6 L780.4 1476.3 L782.4 1476.1 L784.4 1475.8 L786.4 1475.6 L788.4 1475.4 L790.4 1475.2 L792.4 1475.1 L794.4 1475.1 L796.4 1475 L798.4 1475 L800.4 1475.1 L802.4 1475.1 L804.4 1475.1 L806.4 1475.2 L808.4 1475.3 L810.4 1475.3 L812.4 1475.4 L814.4 1475.4 L816.4 1475.5 L818.4 1475.6 L820.4 1475.7 L822.4 1475.7 L824.4 1475.8 L826.4 1475.9 L828.4 1475.9 L830.4 1476 L832.4 1476 L834.4 1476.1 L836.4 1476.1 L838.4 1476.1 L840.4 1476.2 L842.4 1476.2 L844.4 1476.2 L846.4 1476.2 L848.4 1476.2"/>
<path fill="none" stroke="#000" stroke-width="2.6" d="M981.5 398 L983.5 398 L985.5 398 L987.5 398 L989.5 398 L991.5 398 L993.5 398 L995.5 398 L997.5 398.1 L999.5 398.1 L1001.5 398.2 L1003.5 398.2 L1005.5 398.3 L1007.5 398.4 L1009.5 398.5 L1011.5 398.5 L1013.5 398.5 L1015.5 398.5 L1017.5 398.4 L1019.5 398.3 L1021.5 398 L1023.5 397.7 L1025.5 397.4 L1027.5 397 L1029.5 396.6 L1031.5 396.2 L1033.5 395.7 L1035.5 395.2 L1037.5 394.6 L1039.5 393.9 L1041.5 393.1 L1043.5 392.4 L1045.5 391.6 L1047.5 390.9 L1049.5 390.3 L1051.5 389.7 L1053.5 389.1 L1055.5 388.6 L1057.5 388.1 L1059.5 387.7 L1061.5 387.3 L1063.5 386.9 L1065.5 386.5 L1067.5 386.1 L1069.5 385.8 L1071.5 385.6 L1073.5 385.3 L1075.5 385.1 L1077.5 384.9 L1079.5 384.7 L1081.5 384.5 L1083.5 384.3 L1085.5 384.1 L1087.5 383.8 L1089.5 383.4 L1091.5 382.8 L1093.5 382.1 L1095.5 381.2 L1097.5 380.2 L1099.5 379.1 L1101.5 378.1 L1103.5 377.1 L1105.5 376.2 L1107.5 375.4 L1109.5 374.7 L1111.5 374 L1113.5 373.3 L1115.5 372.6 L1117.5 371.9 L1119.5 371.1 L1121.5 370.2 L1123.5 369.2 L1125.5 368.1 L1127.5 367 L1129.5 365.7 L1131.5 364.4 L1133.5 363 L1135.5 361.5 L1137.5 360 L1139.5 358.4 L1141.5 356.7 L1143.5 355 L1145.5 353.2 L1147.5 351.4 L1149.5 349.6 L1151.5 347.6 L1153.5 345.4 L1155.5 343 L1157.5 340.3 L1159.5 337.3 L1161.5 334.1 L1163.5 330.7 L1165.5 327.2 L1167.5 323.6 L1169.5 319.9 L1171.5 316 L1173.5 312.2 L1175.5 308.4 L1177.5 304.7 L1179.5 301.3 L1181.5 298.1 L1183.5 295.1 L1185.5 292 L1187.5 288.7 L1189.5 285 L1191.5 280.9 L1193.5 276.2 L1195.5 270.8 L1197.5 264.9 L1199.5 258.5 L1201.5 251.8 L1203.5 245.4 L1205.5 239.3 L1207.5 233.8 L1209.5 228.7 L1211.5 223.7 L1213.5 218.5 L1215.5 213.1 L1217.5 207.6 L1219.5 201.9 L1221.5 196 L1223.5 189.9 L1225.5 183.3 L1227.5 176.4 L1229.5 169.3 L1231.5 162.4 L1233.5 155.8 L1235.5 149.7 L1237.5 143.9 L1239.5 138.5 L1241.5 133.4 L1243.5 128.6 L1245.5 123.9 L1247.5 119.5 L1249.5 115.2 L1251.5 110.9 L1253.5 106.7 L1255.5 102.6 L1257.5 99 L1259.5 96 L1261.5 93.7 L1263.5 92.1 L1265.5 91.1 L1267.5 90.5 L1269.5 90.4 L1271.5 90.5 L1273.5 90.8 L1275.5 91.4 L1277.5 92.3 L1279.5 93.5 L1281.5 95.2 L1283.5 97.4 L1285.5 100.2 L1287.5 103.6 L1289.5 107.7 L1291.5 112.6 L1293.5 118 L1295.5 123.8 L1297.5 129.7 L1299.5 135.4 L1301.5 140.8 L1303.5 145.8 L1305.5 150.3 L1307.5 154.8 L1309.5 159.3 L1311.5 164.2 L1313.5 169.5 L1315.5 175.1 L1317.5 181.1 L1319.5 187.1 L1321.5 193 L1323.5 198.8 L1325.5 204.3 L1327.5 209.8 L1329.5 215.4 L1331.5 221.1 L1333.5 227 L1335.5 233 L1337.5 239.1 L1339.5 245 L1341.5 250.6 L1343.5 255.8 L1345.5 260.7 L1347.5 265.6 L1349.5 270.6 L1351.5 275.9 L1353.5 281.1 L1355.5 286.4 L1357.5 291.5 L1359.5 296.5 L1361.5 301.4 L1363.5 306.2 L1365.5 311 L1367.5 315.9 L1369.5 320.6 L1371.5 325.3 L1373.5 329.7 L1375.5 333.8 L1377.5 337.5 L1379.5 341 L1381.5 344.2 L1383.5 347.3 L1385.5 350.2 L1387.5 353 L1389.5 355.6 L1391.5 358.1 L1393.5 360.3 L1395.5 362.5 L1397.5 364.6 L1399.5 366.7 L1401.5 368.9 L1403.5 371.3 L1405.5 373.8 L1407.5 376.4 L1409.5 378.7 L1411.5 380.9 L1413.5 382.8 L1415.5 384.5 L1417.5 386 L1419.5 387.5 L1421.5 388.8 L1423.5 390 L1425.5 391.2 L1427.5 392.2 L1429.5 393.3 L1431.5 394.3 L1433.5 395.2 L1435.5 396 L1437.5 396.9 L1439.5 397.6 L1441.5 398.4 L1443.5 399.1 L1445.5 399.7 L1447.5 400.4 L1449.5 401 L1451.5 401.5 L1453.5 402.1 L1455.5 402.5 L1457.5 403 L1459.5 403.4 L1461.5 403.8 L1463.5 404.2 L1465.5 404.6 L1467.5 404.9 L1469.5 405.2 L1471.5 405.5 L1473.5 405.8 L1475.5 406.1 L1477.5 406.3 L1479.5 406.5 L1481.5 406.6 L1483.5 406.8 L1485.5 406.9 L1487.5 407 L1489.5 407.1 L1491.5 407.1 L1493.5 407.2 L1495.5 407.3 L1497.5 407.3 L1499.5 407.4 L1501.5 407.4 L1503.5 407.5 L1505.5 407.5 L1507.5 407.5 L1509.5 407.4 L1511.5 407.4 L1513.5 407.3 L1515.5 407.2 L1517.5 407.1 L1519.5 407 L1521.5 406.9 L1523.5 406.8 L1525.5 406.7 L1527.5 406.6 L1529.5 406.6 L1531.5 406.5 L1533.5 406.5 L1535.5 406.5 L1537.5 406.5 L1539.5 406.6 L1541.5 406.6 L1543.5 406.6 L1545.5 406.7 L1547.5 406.7 L1549.5 406.8 L1551.5 406.9 L1553.5 406.9 L1555.5 407 L1557.5 407.1 L1559.5 407.3 L1561.5 407.5 L1563.5 407.7 L1565.5 408 L1567.5 408.2 L1569.5 408.5 L1571.5 408.7 L1573.5 409 L1575.5 409.2 L1577.5 409.3 L1579.5 409.4 L1581.5 409.4 L1583.5 409.4 L1585.5 409.4 L1587.5 409.3 L1589.5 409.2 L1591.5 409.1 L1593.5 409 L1595.5 408.9 L1597.5 408.8 L1599.5 408.7 L1601.5 408.6 L1603.5 408.6 L1605.5 408.6 L1607.5 408.6 L1609.5 408.6 L1611.5 408.7 L1613.5 408.9 L1615.5 409 L1617.5 409.2 L1619.5 409.3 L1621.5 409.5 L1623.5 409.6 L1625.5 409.8 L1627.5 409.9 L1629.5 409.9 L1631.5 410 L1633.5 410.1 L1635.5 410.1 L1637.5 410.1 L1639.5 410.2 L1641.5 410.2 L1643.5 410.2 L1645.5 410.3 L1647.5 410.3 L1649.5 410.3 L1651.5 410.3 L1653.5 410.3 L1655.5 410.4 L1657.5 410.4 L1659.5 410.4"/>
<path fill="none" stroke="#000" stroke-width="2.6" d="M981.6 925.7 L983.6 925.4 L985.6 925.1 L987.6 924.6 L989.6 924.2 L991.6 923.8 L993.6 923.4 L995.6 923 L997.6 922.6 L999.6 922.2 L1001.6 921.9 L1003.6 921.6 L1005.6 921.2 L1007.6 920.9 L1009.6 920.6 L1011.6 920.4 L1013.6 920.1 L1015.6 919.8 L1017.6 919.5 L1019.6 919.3 L1021.6 919 L1023.6 918.8 L1025.6 918.6 L1027.6 918.4 L1029.6 918.2 L1031.6 918 L1033.6 917.9 L1035.6 917.7 L1037.6 917.6 L1039.6 917.5 L1041.6 917.4 L1043.6 917.3 L1045.6 917.2 L1047.6 917.1 L1049.6 917 L1051.6 916.9 L1053.6 916.8 L1055.6 916.7 L1057.6 916.6 L1059.6 916.4 L1061.6 916.3 L1063.6 916.1 L1065.6 915.9 L1067.6 915.6 L1069.6 915.4 L1071.6 915.1 L1073.6 914.8 L1075.6 914.5 L1077.6 914.1 L1079.6 913.7 L1081.6 913.3 L1083.6 912.8 L1085.6 912.2 L1087.6 911.6 L1089.6 910.7 L1091.6 909.8 L1093.6 908.6 L1095.6 907.3 L1097.6 906 L1099.6 904.5 L1101.6 903 L1103.6 901.4 L1105.6 899.7 L1107.6 898 L1109.6 896.2 L1111.6 894.5 L1113.6 892.9 L1115.6 891.3 L1117.6 889.9 L1119.6 888.5 L1121.6 887.2 L1123.6 885.9 L1125.6 884.7 L1127.6 883.5 L1129.6 882.3 L1131.6 881.2 L1133.6 880.1 L1135.6 879 L1137.6 877.8 L1139.6 876.6 L1141.6 875.3 L1143.6 873.6 L1145.6 871.7 L1147.6 869.4 L1149.6 866.9 L1151.6 864.2 L1153.6 861.6 L1155.6 859.1 L1157.6 856.8 L1159.6 854.5 L1161.6 852.4 L1163.6 850.3 L1165.6 848.2 L1167.6 846.2 L1169.6 844.1 L1171.6 842.1 L1173.6 840.1 L1175.6 838.1 L1177.6 835.9 L1179.6 833.5 L1181.6 830.9 L1183.6 827.9 L1185.6 824.6 L1187.6 820.8 L1189.6 816.6 L1191.6 812.1 L1193.6 807.7 L1195.6 803.6 L1197.6 799.9 L1199.6 796.3 L1201.6 792.8 L1203.6 789.2 L1205.6 785.5 L1207.6 781.6 L1209.6 777.4 L1211.6 772.8 L1213.6 767.8 L1215.6 762.5 L1217.6 757 L1219.6 751.7 L1221.6 746.7 L1223.6 742.1 L1225.6 737.8 L1227.6 733.6 L1229.6 729.4 L1231.6 725.1 L1233.6 720.6 L1235.6 716.1 L1237.6 711.6 L1239.6 707.1 L1241.6 702.7 L1243.6 698.4 L1245.6 694.1 L1247.6 690 L1249.6 685.8 L1251.6 681.4 L1253.6 676.9 L1255.6 672.3 L1257.6 667.7 L1259.6 663.2 L1261.6 659 L1263.6 654.9 L1265.6 650.9 L1267.6 647 L1269.6 643.3 L1271.6 639.7 L1273.6 636.3 L1275.6 633.2 L1277.6 630.6 L1279.6 628.4 L1281.6 626.6 L1283.6 625.3 L1285.6 624.4 L1287.6 623.9 L1289.6 623.8 L1291.6 624.3 L1293.6 625.4 L1295.6 627 L1297.6 629.1 L1299.6 631.5 L1301.6 633.8 L1303.6 636.1 L1305.6 638.3 L1307.6 640.4 L1309.6 642.6 L1311.6 644.8 L1313.6 647.2 L1315.6 649.8 L1317.6 652.7 L1319.6 656.1 L1321.6 659.9 L1323.6 664 L1325.6 667.9 L1327.6 671.6 L1329.6 675 L1331.6 678.3 L1333.6 681.8 L1335.6 685.9 L1337.6 690.7 L1339.6 696.3 L1341.6 702.6 L1343.6 709.4 L1345.6 716.5 L1347.6 723.7 L1349.6 730.8 L1351.6 738 L1353.6 745.3 L1355.6 752.8 L1357.6 760.3 L1359.6 767.8 L1361.6 775.2 L1363.6 782.5 L1365.6 789.5 L1367.6 796.3 L1369.6 802.7 L1371.6 808.6 L1373.6 814.1 L1375.6 819 L1377.6 823.6 L1379.6 828 L1381.6 832.3 L1383.6 836.8 L1385.6 841.6 L1387.6 846.5 L1389.6 851.3 L1391.6 855.6 L1393.6 859.1 L1395.6 861.9 L1397.6 864.4 L1399.6 866.7 L1401.6 869.2 L1403.6 872.2 L1405.6 875.8 L1407.6 880.1 L1409.6 884.7 L1411.6 889.1 L1413.6 892.9 L1415.6 896.3 L1417.6 899.5 L1419.6 902.5 L1421.6 905.5 L1423.6 908.4 L1425.6 911.4 L1427.6 914.3 L1429.6 917.1 L1431.6 919.7 L1433.6 922.1 L1435.6 923.9 L1437.6 925.4 L1439.6 926.4 L1441.6 927.2 L1443.6 927.7 L1445.6 928.2 L1447.6 928.6 L1449.6 929 L1451.6 929.3 L1453.6 929.7 L1455.6 930 L1457.6 930.3 L1459.6 930.6 L1461.6 930.8 L1463.6 931.1 L1465.6 931.4 L1467.6 931.6 L1469.6 931.9 L1471.6 932.1 L1473.6 932.4 L1475.6 932.6 L1477.6 932.9 L1479.6 933.2 L1481.6 933.5 L1483.6 933.8 L1485.6 934.1 L1487.6 934.3 L1489.6 934.6 L1491.6 934.7 L1493.6 934.8 L1495.6 934.7 L1497.6 934.4 L1499.6 933.9 L1501.6 933.4 L1503.6 932.7 L1505.6 932.1 L1507.6 931.6 L1509.6 931.3 L1511.6 931.1 L1513.6 931 L1515.6 931 L1517.6 931 L1519.6 931 L1521.6 931.1 L1523.6 931.4 L1525.6 931.8 L1527.6 932.6 L1529.6 933.6 L1531.6 934.6 L1533.6 935.5 L1535.6 936.2 L1537.6 936.8 L1539.6 937.2 L1541.6 937.5 L1543.6 937.7 L1545.6 937.8 L1547.6 937.8 L1549.6 937.7 L1551.6 937.4 L1553.6 937.2 L1555.6 936.9 L1557.6 936.6 L1559.6 936.4 L1561.6 936.3 L1563.6 936.2 L1565.6 936.1 L1567.6 936 L1569.6 935.9 L1571.6 935.9 L1573.6 935.8 L1575.6 935.7 L1577.6 935.6 L1579.6 935.5 L1581.6 935.4 L1583.6 935.3 L1585.6 935.1 L1587.6 935 L1589.6 934.8 L1591.6 934.6 L1593.6 934.4 L1595.6 934.2 L1597.6 933.9 L1599.6 933.7 L1601.6 933.5 L1603.6 933.2 L1605.6 932.9 L1607.6 932.6 L1609.6 932.3 L1611.6 931.9 L1613.6 931.6 L1615.6 931.2 L1617.6 930.9 L1619.6 930.6 L1621.6 930.3 L1623.6 930.2 L1625.6 930.1 L1627.6 930.1 L1629.6 930.1 L1631.6 930.2 L1633.6 930.3 L1635.6 930.4 L1637.6 930.6 L1639.6 930.7 L1641.6 930.9 L1643.6 931.1 L1645.6 931.2 L1647.6 931.4 L1649.6 931.6 L1651.6 931.7 L1653.6 931.9 L1655.6 932 L1657.6 932.2 L1659.6 932.3 L1661.6 932.4"/>
<path fill="none" stroke="#000" stroke-width="2.6" d="M981.2 1474 L983.2 1474 L985.2 1474 L987.2 1474 L989.2 1473.9 L991.2 1473.9 L993.2 1473.8 L995.2 1473.6 L997.2 1473.4 L999.2 1473.1 L1001.2 1472.7 L1003.2 1472.3 L1005.2 1471.9 L1007.2 1471.5 L1009.2 1471.1 L1011.2 1470.7 L1013.2 1470.2 L1015.2 1469.9 L1017.2 1469.5 L1019.2 1469.2 L1021.2 1468.9 L1023.2 1468.6 L1025.2 1468.4 L1027.2 1468.1 L1029.2 1467.9 L1031.2 1467.7 L1033.2 1467.5 L1035.2 1467.2 L1037.2 1467 L1039.2 1466.8 L1041.2 1466.6 L1043.2 1466.4 L1045.2 1466.2 L1047.2 1466 L1049.2 1465.7 L1051.2 1465.5 L1053.2 1465.2 L1055.2 1464.9 L1057.2 1464.7 L1059.2 1464.3 L1061.2 1464 L1063.2 1463.7 L1065.2 1463.3 L1067.2 1463 L1069.2 1462.6 L1071.2 1462.2 L1073.2 1461.8 L1075.2 1461.5 L1077.2 1461.1 L1079.2 1460.7 L1081.2 1460.4 L1083.2 1460 L1085.2 1459.7 L1087.2 1459.4 L1089.2 1459.1 L1091.2 1458.9 L1093.2 1458.7 L1095.2 1458.4 L1097.2 1458.2 L1099.2 1458.1 L1101.2 1457.9 L1103.2 1457.7 L1105.2 1457.6 L1107.2 1457.4 L1109.2 1457.3 L1111.2 1457.1 L1113.2 1456.9 L1115.2 1456.7 L1117.2 1456.5 L1119.2 1456.3 L1121.2 1456 L1123.2 1455.8 L1125.2 1455.4 L1127.2 1455 L1129.2 1454.4 L1131.2 1453.7 L1133.2 1452.9 L1135.2 1452 L1137.2 1450.9 L1139.2 1449.9 L1141.2 1448.8 L1143.2 1447.6 L1145.2 1446.4 L1147.2 1445.2 L1149.2 1443.9 L1151.2 1442.5 L1153.2 1441 L1155.2 1439.5 L1157.2 1437.8 L1159.2 1436.1 L1161.2 1434.3 L1163.2 1432.5 L1165.2 1430.6 L1167.2 1428.7 L1169.2 1426.9 L1171.2 1425 L1173.2 1423 L1175.2 1421 L1177.2 1418.7 L1179.2 1416.2 L1181.2 1413.4 L1183.2 1410.3 L1185.2 1406.9 L1187.2 1403.5 L1189.2 1400 L1191.2 1396.6 L1193.2 1393.4 L1195.2 1390.4 L1197.2 1387.5 L1199.2 1384.9 L1201.2 1382.4 L1203.2 1379.8 L1205.2 1377.3 L1207.2 1374.5 L1209.2 1371.6 L1211.2 1368.4 L1213.2 1364.8 L1215.2 1360.5 L1217.2 1355.4 L1219.2 1349.6 L1221.2 1343.2 L1223.2 1336.8 L1225.2 1330.6 L1227.2 1324.5 L1229.2 1318.4 L1231.2 1312 L1233.2 1305.6 L1235.2 1299.1 L1237.2 1292.9 L1239.2 1286.9 L1241.2 1281.1 L1243.2 1275.3 L1245.2 1269.4 L1247.2 1263.2 L1249.2 1256.5 L1251.2 1249.3 L1253.2 1241.7 L1255.2 1234.1 L1257.2 1226.7 L1259.2 1219.6 L1261.2 1212.9 L1263.2 1206.6 L1265.2 1200.4 L1267.2 1194.2 L1269.2 1187.8 L1271.2 1181.4 L1273.2 1175.3 L1275.2 1170 L1277.2 1165.9 L1279.2 1163.3 L1281.2 1162 L1283.2 1161.5 L1285.2 1161.6 L1287.2 1162.3 L1289.2 1163.3 L1291.2 1164.7 L1293.2 1166.3 L1295.2 1168.1 L1297.2 1170.3 L1299.2 1173 L1301.2 1176.5 L1303.2 1180.6 L1305.2 1185.1 L1307.2 1189.5 L1309.2 1193.8 L1311.2 1197.8 L1313.2 1201.7 L1315.2 1205.8 L1317.2 1210.3 L1319.2 1215.8 L1321.2 1222.4 L1323.2 1230.2 L1325.2 1238.6 L1327.2 1247.2 L1329.2 1255.6 L1331.2 1263.8 L1333.2 1271.7 L1335.2 1279.5 L1337.2 1286.9 L1339.2 1293.4 L1341.2 1298.9 L1343.2 1303.6 L1345.2 1307.6 L1347.2 1311.1 L1349.2 1314.5 L1351.2 1317.9 L1353.2 1321.6 L1355.2 1325.7 L1357.2 1330.1 L1359.2 1334.8 L1361.2 1339.7 L1363.2 1344.9 L1365.2 1350.5 L1367.2 1356.5 L1369.2 1362.9 L1371.2 1369.5 L1373.2 1376.2 L1375.2 1382.7 L1377.2 1388.8 L1379.2 1394.1 L1381.2 1398.9 L1383.2 1403 L1385.2 1406.7 L1387.2 1410.1 L1389.2 1413.3 L1391.2 1416.1 L1393.2 1418.7 L1395.2 1421 L1397.2 1423.1 L1399.2 1425.2 L1401.2 1427.2 L1403.2 1429.3 L1405.2 1431.7 L1407.2 1434.4 L1409.2 1437.3 L1411.2 1440.3 L1413.2 1443.2 L1415.2 1445.8 L1417.2 1448 L1419.2 1449.7 L1421.2 1451 L1423.2 1452.1 L1425.2 1453 L1427.2 1454 L1429.2 1454.9 L1431.2 1455.8 L1433.2 1456.8 L1435.2 1457.8 L1437.2 1458.9 L1439.2 1460 L1441.2 1461.2 L1443.2 1462.3 L1445.2 1463.4 L1447.2 1464.4 L1449.2 1465.3 L1451.2 1466.1 L1453.2 1466.8 L1455.2 1467.6 L1457.2 1468.2 L1459.2 1468.9 L1461.2 1469.5 L1463.2 1470.1 L1465.2 1470.6 L1467.2 1471 L1469.2 1471.4 L1471.2 1471.6 L1473.2 1471.8 L1475.2 1471.9 L1477.2 1472 L1479.2 1472 L1481.2 1472 L1483.2 1472 L1485.2 1472 L1487.2 1472 L1489.2 1472 L1491.2 1472 L1493.2 1472 L1495.2 1472 L1497.2 1472 L1499.2 1472 L1501.2 1472 L1503.2 1472 L1505.2 1472 L1507.2 1472 L1509.2 1472 L1511.2 1472.1 L1513.2 1472.2 L1515.2 1472.3 L1517.2 1472.5 L1519.2 1472.7 L1521.2 1473 L1523.2 1473.3 L1525.2 1473.6 L1527.2 1473.8 L1529.2 1474.1 L1531.2 1474.2 L1533.2 1474.4 L1535.2 1474.4 L1537.2 1474.4 L1539.2 1474.4 L1541.2 1474.4 L1543.2 1474.3 L1545.2 1474.2 L1547.2 1474.1 L1549.2 1474.1 L1551.2 1474 L1553.2 1473.9 L1555.2 1473.9 L1557.2 1473.8 L1559.2 1473.8 L1561.2 1473.8 L1563.2 1473.8 L1565.2 1473.8 L1567.2 1473.8 L1569.2 1473.8 L1571.2 1473.8 L1573.2 1473.8 L1575.2 1473.8 L1577.2 1473.8 L1579.2 1473.8 L1581.2 1473.8 L1583.2 1473.8 L1585.2 1473.8 L1587.2 1473.8 L1589.2 1473.8 L1591.2 1473.8 L1593.2 1473.8 L1595.2 1473.8 L1597.2 1473.8 L1599.2 1473.8 L1601.2 1473.8 L1603.2 1473.8 L1605.2 1473.8 L1607.2 1473.8 L1609.2 1473.8 L1611.2 1473.8 L1613.2 1473.8 L1615.2 1473.8 L1617.2 1473.8 L1619.2 1473.8 L1621.2 1473.8 L1623.2 1473.8 L1625.2 1473.8 L1627.2 1473.8 L1629.2 1473.8 L1631.2 1473.8 L1633.2 1473.8 L1635.2 1473.8 L1637.2 1473.8 L1639.2 1473.8 L1641.2 1473.8 L1643.2 1473.8 L1645.2 1473.8 L1647.2 1473.8 L1649.2 1473.8 L1651.2 1473.8 L1653.2 1473.8 L1655.2 1473.8 L1657.2 1473.8 L1659.2 1473.8 L1661.2 1473.8"/>
<path fill="none" stroke="#f00" stroke-width="7.5" stroke-dasharray="22.6 8.4" d="M468.4 74.7V561.6"/>
<path fill="none" stroke="#f00" stroke-width="7.4" stroke-linejoin="miter" d="M468.4 569.4V591.7H481.6V614.9"/>
<path fill="none" stroke="#f00" stroke-width="7.5" stroke-dasharray="22.6 8.4" d="M481.6 622.8V1109.6"/>
<path fill="none" stroke="#f00" stroke-width="7.4" stroke-linejoin="miter" d="M481.6 1118.2V1127.9H466.1V1146.4"/>
<path fill="none" stroke="#f00" stroke-width="7.5" stroke-dasharray="22.6 8.4" d="M466.1 1155.2V1641.3"/>
<path fill="none" stroke="#f00" stroke-width="7.5" stroke-dasharray="22.6 8.4" d="M1271 72.7V560"/>
<path fill="none" stroke="#f00" stroke-width="7.4" stroke-linejoin="miter" d="M1271 568.3V595H1284V621.9"/>
<path fill="none" stroke="#f00" stroke-width="7.5" stroke-dasharray="22.6 8.4" d="M1284 627.6V1116.2"/>
<path fill="none" stroke="#f00" stroke-width="7.4" stroke-linejoin="miter" d="M1284 1124.4V1128H1291V1147.7"/>
<path fill="none" stroke="#f00" stroke-width="7.5" stroke-dasharray="22.6 8.4" d="M1291 1155.2V1642.3"/>
<path fill="none" stroke="#000" stroke-width="5.4" d="M74.1 52.6V1666"/>
<path fill="none" stroke="#000" stroke-width="4.5" d="M74 1665.4H885.4M937.6 1666.5H1668"/>
<path fill="none" stroke="#000" stroke-width="4.4" d="M82.1 1665V1682.6M945.1 1666V1683M118.2 1665V1682.6M977.5 1666V1683M154.3 1665V1682.6M1009.8 1666V1683M190.4 1665V1696.4M1042.2 1666V1697.6M226.5 1665V1682.6M1074.6 1666V1683M262.6 1665V1682.6M1107 1666V1683M298.7 1665V1682.6M1139.3 1666V1683M334.8 1665V1696.4M1171.7 1666V1697.6M370.8 1665V1682.6M1204.1 1666V1683M406.9 1665V1682.6M1236.5 1666V1683M443 1665V1682.6M1268.8 1666V1683M479.1 1665V1696.4M1301.2 1666V1697.6M515.2 1665V1682.6M1333.6 1666V1683M551.3 1665V1682.6M1366 1666V1683M587.4 1665V1682.6M1398.3 1666V1683M623.4 1665V1696.4M1430.7 1666V1697.6M659.5 1665V1682.6M1463.1 1666V1683M695.6 1665V1682.6M1495.5 1666V1683M731.7 1665V1682.6M1527.8 1666V1683M767.8 1665V1696.4M1560.2 1666V1697.6M803.9 1665V1682.6M1592.6 1666V1683M840 1665V1682.6M1625 1666V1683M876.1 1665V1682.6M1657.3 1666V1683"/>
<text x="189.2" y="1733.5" font-family="'Liberation Sans', Arial, sans-serif" font-size="42" text-anchor="middle" textLength="65.5" lengthAdjust="spacingAndGlyphs">286</text>
<text x="1041.2" y="1735.1" font-family="'Liberation Sans', Arial, sans-serif" font-size="42" text-anchor="middle" textLength="65.5" lengthAdjust="spacingAndGlyphs">286</text>
<text x="333.6" y="1733.5" font-family="'Liberation Sans', Arial, sans-serif" font-size="42" text-anchor="middle" textLength="65.5" lengthAdjust="spacingAndGlyphs">285</text>
<text x="1170.7" y="1735.1" font-family="'Liberation Sans', Arial, sans-serif" font-size="42" text-anchor="middle" textLength="65.5" lengthAdjust="spacingAndGlyphs">285</text>
<text x="477.9" y="1733.5" font-family="'Liberation Sans', Arial, sans-serif" font-size="42" text-anchor="middle" textLength="65.5" lengthAdjust="spacingAndGlyphs">284</text>
<text x="1300.2" y="1735.1" font-family="'Liberation Sans', Arial, sans-serif" font-size="42" text-anchor="middle" textLength="65.5" lengthAdjust="spacingAndGlyphs">284</text>
<text x="622.2" y="1733.5" font-family="'Liberation Sans', Arial, sans-serif" font-size="42" text-anchor="middle" textLength="65.5" lengthAdjust="spacingAndGlyphs">283</text>
<text x="1429.7" y="1735.1" font-family="'Liberation Sans', Arial, sans-serif" font-size="42" text-anchor="middle" textLength="65.5" lengthAdjust="spacingAndGlyphs">283</text>
<text x="766.6" y="1733.5" font-family="'Liberation Sans', Arial, sans-serif" font-size="42" text-anchor="middle" textLength="65.5" lengthAdjust="spacingAndGlyphs">282</text>
<text x="1559.2" y="1735.1" font-family="'Liberation Sans', Arial, sans-serif" font-size="42" text-anchor="middle" textLength="65.5" lengthAdjust="spacingAndGlyphs">282</text>
<text x="299" y="1779.3" font-family="'Liberation Sans', Arial, sans-serif" font-size="39.5" textLength="360" lengthAdjust="spacingAndGlyphs">Binding Energy (eV)</text>
<text x="1119.7" y="1781.7" font-family="'Liberation Sans', Arial, sans-serif" font-size="39.5" textLength="364" lengthAdjust="spacingAndGlyphs">Binding Energy (eV)</text>
<text x="182.5" y="38.3" font-family="Carlito, 'Liberation Sans', sans-serif" font-size="54">(a)</text>
<text x="366" y="38.3" font-family="Carlito, 'Liberation Sans', sans-serif" font-size="54" textLength="195" lengthAdjust="spacingAndGlyphs">p-chGNR</text>
<text x="1007.3" y="38.3" font-family="Carlito, 'Liberation Sans', sans-serif" font-size="54">(b)</text>
<text x="1179.5" y="38.3" font-family="Carlito, 'Liberation Sans', sans-serif" font-size="54" textLength="191" lengthAdjust="spacingAndGlyphs">k-chGNR</text>
<text transform="translate(38.3 1222.5) rotate(-90)" font-family="Carlito, 'Liberation Sans', sans-serif" font-size="54" textLength="752" lengthAdjust="spacingAndGlyphs">Photoemission intensity (arb. Un.)</text>
<text transform="translate(128.2 449.3) rotate(-90)" font-family="Carlito, 'Liberation Sans', sans-serif" font-size="54" textLength="207" lengthAdjust="spacingAndGlyphs">As-grown</text>
<text transform="translate(127.2 1017.7) rotate(-90)" font-family="Carlito, 'Liberation Sans', sans-serif" font-size="54" textLength="309" lengthAdjust="spacingAndGlyphs">Hydrogenated</text>
<text transform="translate(128.6 1570.8) rotate(-90)" font-family="Carlito, 'Liberation Sans', sans-serif" font-size="54" textLength="341.5" lengthAdjust="spacingAndGlyphs">After annealing</text>
<rect x="778.6" y="638.2" width="41" height="33.4" fill="#ff8782"/>
<text transform="translate(835 672.6) scale(0.965 1)" font-family="Carlito, 'Liberation Sans', sans-serif" font-size="56">C<tspan font-style="italic">sp</tspan><tspan font-size="35" dy="-17">2</tspan></text>
<rect x="778.6" y="702" width="41" height="33.4" fill="#12ff22"/>
<text transform="translate(832.8 736.2) scale(0.965 1)" font-family="Carlito, 'Liberation Sans', sans-serif" font-size="56">C<tspan font-style="italic">sp</tspan><tspan font-size="35" dy="-17">3</tspan></text>
<rect x="778.6" y="766" width="41" height="33.4" fill="#0083ff"/>
<text transform="translate(837.1 800) scale(0.965 1)" font-family="Carlito, 'Liberation Sans', sans-serif" font-size="56">kC<tspan font-style="italic">sp</tspan><tspan font-size="35" dy="-17">2</tspan></text>
<rect x="778.6" y="829.8" width="41" height="33.4" fill="#8a87d0"/>
<text transform="translate(837.1 862.5) scale(0.965 1)" font-family="Carlito, 'Liberation Sans', sans-serif" font-size="56">kC=O</text>
</svg>
</body></html>
